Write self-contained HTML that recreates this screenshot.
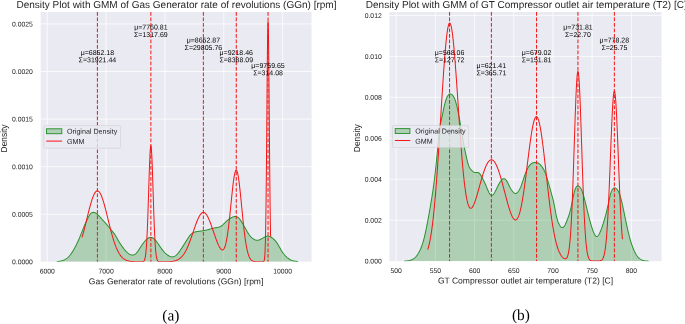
<!DOCTYPE html>
<html lang="en"><head><meta charset="utf-8"><title>Density Plot with GMM</title>
<style>html,body{margin:0;padding:0;background:#fff;overflow:hidden}svg{display:block}</style>
</head><body>
<svg width="685" height="324" viewBox="0 0 685 324" font-family='"Liberation Sans", sans-serif'>
<rect width="685" height="324" fill="#fff"/>
<clipPath id="clipL"><rect x="40.7" y="12" width="270.8" height="249.7"/></clipPath>
<rect x="40.7" y="12" width="270.8" height="249.7" fill="#eaeaf2"/>
<line x1="47.25" y1="12" x2="47.25" y2="261.7" stroke="#fff" stroke-width="0.75"/>
<line x1="106.10" y1="12" x2="106.10" y2="261.7" stroke="#fff" stroke-width="0.75"/>
<line x1="164.95" y1="12" x2="164.95" y2="261.7" stroke="#fff" stroke-width="0.75"/>
<line x1="223.80" y1="12" x2="223.80" y2="261.7" stroke="#fff" stroke-width="0.75"/>
<line x1="282.65" y1="12" x2="282.65" y2="261.7" stroke="#fff" stroke-width="0.75"/>
<line x1="40.7" y1="214.27" x2="311.5" y2="214.27" stroke="#fff" stroke-width="0.75"/>
<line x1="40.7" y1="166.68" x2="311.5" y2="166.68" stroke="#fff" stroke-width="0.75"/>
<line x1="40.7" y1="119.10" x2="311.5" y2="119.10" stroke="#fff" stroke-width="0.75"/>
<line x1="40.7" y1="71.51" x2="311.5" y2="71.51" stroke="#fff" stroke-width="0.75"/>
<line x1="40.7" y1="23.93" x2="311.5" y2="23.93" stroke="#fff" stroke-width="0.75"/>
<g clip-path="url(#clipL)">
<path d="M56.80,261.70 L57.20,261.64 L57.60,261.57 L58.00,261.50 L58.40,261.44 L58.80,261.37 L59.20,261.29 L59.60,261.22 L60.00,261.14 L60.40,261.06 L60.80,260.97 L61.20,260.88 L61.60,260.78 L62.00,260.67 L62.40,260.55 L62.80,260.42 L63.20,260.29 L63.60,260.14 L64.00,259.97 L64.40,259.79 L64.80,259.60 L65.20,259.39 L65.60,259.16 L66.00,258.92 L66.40,258.65 L66.80,258.37 L67.20,258.06 L67.60,257.73 L68.00,257.38 L68.40,257.00 L68.80,256.60 L69.20,256.17 L69.60,255.71 L70.00,255.24 L70.40,254.74 L70.80,254.21 L71.20,253.66 L71.60,253.09 L72.00,252.50 L72.40,251.89 L72.80,251.26 L73.20,250.60 L73.60,249.93 L74.00,249.24 L74.40,248.53 L74.80,247.80 L75.20,247.05 L75.60,246.28 L76.00,245.50 L76.40,244.70 L76.80,243.89 L77.20,243.05 L77.60,242.20 L78.00,241.33 L78.40,240.44 L78.80,239.53 L79.20,238.60 L79.60,237.64 L80.00,236.67 L80.40,235.67 L80.80,234.66 L81.20,233.65 L81.60,232.62 L82.00,231.60 L82.40,230.59 L82.80,229.58 L83.20,228.59 L83.60,227.62 L84.00,226.66 L84.40,225.73 L84.80,224.82 L85.20,223.92 L85.60,223.03 L86.00,222.16 L86.40,221.29 L86.80,220.44 L87.20,219.59 L87.60,218.75 L88.00,217.93 L88.40,217.14 L88.80,216.38 L89.20,215.68 L89.60,215.04 L90.00,214.46 L90.40,213.97 L90.80,213.55 L91.20,213.20 L91.60,212.91 L92.00,212.69 L92.40,212.53 L92.80,212.43 L93.20,212.38 L93.60,212.38 L94.00,212.43 L94.40,212.53 L94.80,212.67 L95.20,212.84 L95.60,213.05 L96.00,213.30 L96.40,213.57 L96.80,213.87 L97.20,214.20 L97.60,214.55 L98.00,214.92 L98.40,215.31 L98.80,215.71 L99.20,216.13 L99.60,216.56 L100.00,217.00 L100.40,217.45 L100.80,217.90 L101.20,218.35 L101.60,218.81 L102.00,219.26 L102.40,219.72 L102.80,220.18 L103.20,220.63 L103.60,221.08 L104.00,221.52 L104.40,221.96 L104.80,222.39 L105.20,222.82 L105.60,223.26 L106.00,223.69 L106.40,224.14 L106.80,224.59 L107.20,225.05 L107.60,225.52 L108.00,226.01 L108.40,226.50 L108.80,227.00 L109.20,227.51 L109.60,228.02 L110.00,228.53 L110.40,229.03 L110.80,229.52 L111.20,230.00 L111.60,230.47 L112.00,230.93 L112.40,231.39 L112.80,231.85 L113.20,232.32 L113.60,232.82 L114.00,233.33 L114.40,233.87 L114.80,234.45 L115.20,235.07 L115.60,235.72 L116.00,236.41 L116.40,237.12 L116.80,237.84 L117.20,238.58 L117.60,239.31 L118.00,240.04 L118.40,240.75 L118.80,241.44 L119.20,242.11 L119.60,242.76 L120.00,243.38 L120.40,243.99 L120.80,244.58 L121.20,245.16 L121.60,245.73 L122.00,246.29 L122.40,246.84 L122.80,247.38 L123.20,247.92 L123.60,248.45 L124.00,248.96 L124.40,249.46 L124.80,249.95 L125.20,250.42 L125.60,250.87 L126.00,251.30 L126.40,251.71 L126.80,252.09 L127.20,252.46 L127.60,252.80 L128.00,253.12 L128.40,253.42 L128.80,253.70 L129.20,253.96 L129.60,254.20 L130.00,254.42 L130.40,254.61 L130.80,254.77 L131.20,254.90 L131.60,255.00 L132.00,255.07 L132.40,255.09 L132.80,255.09 L133.20,255.04 L133.60,254.95 L134.00,254.82 L134.40,254.65 L134.80,254.43 L135.20,254.17 L135.60,253.86 L136.00,253.50 L136.40,253.09 L136.80,252.64 L137.20,252.14 L137.60,251.62 L138.00,251.06 L138.40,250.48 L138.80,249.88 L139.20,249.27 L139.60,248.65 L140.00,248.04 L140.40,247.42 L140.80,246.80 L141.20,246.19 L141.60,245.59 L142.00,244.99 L142.40,244.41 L142.80,243.83 L143.20,243.27 L143.60,242.73 L144.00,242.21 L144.40,241.70 L144.80,241.22 L145.20,240.75 L145.60,240.31 L146.00,239.90 L146.40,239.51 L146.80,239.15 L147.20,238.82 L147.60,238.52 L148.00,238.25 L148.40,238.02 L148.80,237.82 L149.20,237.66 L149.60,237.53 L150.00,237.45 L150.40,237.40 L150.80,237.40 L151.20,237.44 L151.60,237.52 L152.00,237.65 L152.40,237.81 L152.80,238.02 L153.20,238.26 L153.60,238.54 L154.00,238.86 L154.40,239.21 L154.80,239.59 L155.20,240.01 L155.60,240.46 L156.00,240.93 L156.40,241.43 L156.80,241.95 L157.20,242.49 L157.60,243.04 L158.00,243.61 L158.40,244.19 L158.80,244.78 L159.20,245.37 L159.60,245.97 L160.00,246.56 L160.40,247.15 L160.80,247.73 L161.20,248.30 L161.60,248.86 L162.00,249.40 L162.40,249.92 L162.80,250.42 L163.20,250.90 L163.60,251.37 L164.00,251.81 L164.40,252.24 L164.80,252.65 L165.20,253.04 L165.60,253.41 L166.00,253.77 L166.40,254.10 L166.80,254.43 L167.20,254.73 L167.60,255.02 L168.00,255.29 L168.40,255.54 L168.80,255.78 L169.20,256.00 L169.60,256.20 L170.00,256.38 L170.40,256.54 L170.80,256.67 L171.20,256.78 L171.60,256.86 L172.00,256.90 L172.40,256.90 L172.80,256.86 L173.20,256.79 L173.60,256.69 L174.00,256.54 L174.40,256.37 L174.80,256.15 L175.20,255.91 L175.60,255.63 L176.00,255.32 L176.40,254.98 L176.80,254.61 L177.20,254.21 L177.60,253.78 L178.00,253.33 L178.40,252.86 L178.80,252.36 L179.20,251.84 L179.60,251.30 L180.00,250.74 L180.40,250.17 L180.80,249.58 L181.20,248.98 L181.60,248.37 L182.00,247.75 L182.40,247.13 L182.80,246.49 L183.20,245.86 L183.60,245.22 L184.00,244.58 L184.40,243.95 L184.80,243.31 L185.20,242.67 L185.60,242.03 L186.00,241.39 L186.40,240.75 L186.80,240.12 L187.20,239.48 L187.60,238.85 L188.00,238.23 L188.40,237.62 L188.80,237.03 L189.20,236.46 L189.60,235.91 L190.00,235.40 L190.40,234.93 L190.80,234.50 L191.20,234.11 L191.60,233.76 L192.00,233.45 L192.40,233.17 L192.80,232.92 L193.20,232.71 L193.60,232.52 L194.00,232.35 L194.40,232.20 L194.80,232.07 L195.20,231.95 L195.60,231.85 L196.00,231.76 L196.40,231.68 L196.80,231.61 L197.20,231.54 L197.60,231.48 L198.00,231.43 L198.40,231.38 L198.80,231.33 L199.20,231.27 L199.60,231.22 L200.00,231.17 L200.40,231.11 L200.80,231.06 L201.20,231.00 L201.60,230.94 L202.00,230.88 L202.40,230.82 L202.80,230.75 L203.20,230.69 L203.60,230.62 L204.00,230.55 L204.40,230.47 L204.80,230.40 L205.20,230.32 L205.60,230.24 L206.00,230.15 L206.40,230.07 L206.80,229.98 L207.20,229.88 L207.60,229.78 L208.00,229.68 L208.40,229.57 L208.80,229.46 L209.20,229.35 L209.60,229.23 L210.00,229.11 L210.40,228.99 L210.80,228.88 L211.20,228.76 L211.60,228.65 L212.00,228.53 L212.40,228.43 L212.80,228.33 L213.20,228.23 L213.60,228.14 L214.00,228.06 L214.40,227.99 L214.80,227.92 L215.20,227.85 L215.60,227.79 L216.00,227.73 L216.40,227.66 L216.80,227.59 L217.20,227.52 L217.60,227.44 L218.00,227.35 L218.40,227.24 L218.80,227.13 L219.20,227.00 L219.60,226.85 L220.00,226.68 L220.40,226.49 L220.80,226.28 L221.20,226.05 L221.60,225.79 L222.00,225.50 L222.40,225.18 L222.80,224.84 L223.20,224.47 L223.60,224.09 L224.00,223.70 L224.40,223.30 L224.80,222.90 L225.20,222.49 L225.60,222.10 L226.00,221.71 L226.40,221.34 L226.80,220.97 L227.20,220.62 L227.60,220.28 L228.00,219.96 L228.40,219.64 L228.80,219.34 L229.20,219.04 L229.60,218.76 L230.00,218.49 L230.40,218.23 L230.80,217.99 L231.20,217.76 L231.60,217.55 L232.00,217.35 L232.40,217.17 L232.80,217.01 L233.20,216.87 L233.60,216.74 L234.00,216.64 L234.40,216.57 L234.80,216.52 L235.20,216.50 L235.60,216.51 L236.00,216.56 L236.40,216.65 L236.80,216.77 L237.20,216.94 L237.60,217.16 L238.00,217.42 L238.40,217.73 L238.80,218.10 L239.20,218.52 L239.60,218.98 L240.00,219.49 L240.40,220.04 L240.80,220.62 L241.20,221.23 L241.60,221.86 L242.00,222.51 L242.40,223.17 L242.80,223.85 L243.20,224.54 L243.60,225.24 L244.00,225.94 L244.40,226.66 L244.80,227.38 L245.20,228.10 L245.60,228.82 L246.00,229.54 L246.40,230.25 L246.80,230.95 L247.20,231.64 L247.60,232.32 L248.00,232.98 L248.40,233.62 L248.80,234.23 L249.20,234.80 L249.60,235.34 L250.00,235.85 L250.40,236.31 L250.80,236.73 L251.20,237.12 L251.60,237.49 L252.00,237.83 L252.40,238.15 L252.80,238.45 L253.20,238.74 L253.60,239.01 L254.00,239.26 L254.40,239.49 L254.80,239.70 L255.20,239.87 L255.60,240.02 L256.00,240.14 L256.40,240.22 L256.80,240.26 L257.20,240.27 L257.60,240.25 L258.00,240.21 L258.40,240.13 L258.80,240.03 L259.20,239.91 L259.60,239.76 L260.00,239.60 L260.40,239.42 L260.80,239.23 L261.20,239.02 L261.60,238.81 L262.00,238.59 L262.40,238.36 L262.80,238.13 L263.20,237.89 L263.60,237.66 L264.00,237.43 L264.40,237.20 L264.80,236.98 L265.20,236.78 L265.60,236.60 L266.00,236.44 L266.40,236.30 L266.80,236.19 L267.20,236.12 L267.60,236.09 L268.00,236.09 L268.40,236.13 L268.80,236.21 L269.20,236.32 L269.60,236.45 L270.00,236.61 L270.40,236.80 L270.80,237.01 L271.20,237.23 L271.60,237.48 L272.00,237.75 L272.40,238.04 L272.80,238.34 L273.20,238.67 L273.60,239.02 L274.00,239.39 L274.40,239.79 L274.80,240.20 L275.20,240.65 L275.60,241.11 L276.00,241.61 L276.40,242.13 L276.80,242.69 L277.20,243.28 L277.60,243.90 L278.00,244.56 L278.40,245.24 L278.80,245.95 L279.20,246.67 L279.60,247.40 L280.00,248.12 L280.40,248.84 L280.80,249.55 L281.20,250.23 L281.60,250.89 L282.00,251.51 L282.40,252.11 L282.80,252.68 L283.20,253.23 L283.60,253.75 L284.00,254.25 L284.40,254.72 L284.80,255.18 L285.20,255.62 L285.60,256.04 L286.00,256.44 L286.40,256.82 L286.80,257.19 L287.20,257.54 L287.60,257.87 L288.00,258.18 L288.40,258.48 L288.80,258.77 L289.20,259.04 L289.60,259.29 L290.00,259.53 L290.40,259.75 L290.80,259.95 L291.20,260.14 L291.60,260.31 L292.00,260.46 L292.40,260.60 L292.80,260.72 L293.20,260.82 L293.60,260.91 L294.00,260.99 L294.40,261.05 L294.80,261.12 L295.20,261.17 L295.60,261.23 L296.00,261.29 L296.40,261.34 L296.80,261.41 L297.20,261.47 L297.60,261.53 L298.00,261.60 L298.00,261.85 L56.80,261.85 Z" fill="#008000" fill-opacity="0.25" stroke="none"/>
<path d="M56.80,261.70 L57.20,261.64 L57.60,261.57 L58.00,261.50 L58.40,261.44 L58.80,261.37 L59.20,261.29 L59.60,261.22 L60.00,261.14 L60.40,261.06 L60.80,260.97 L61.20,260.88 L61.60,260.78 L62.00,260.67 L62.40,260.55 L62.80,260.42 L63.20,260.29 L63.60,260.14 L64.00,259.97 L64.40,259.79 L64.80,259.60 L65.20,259.39 L65.60,259.16 L66.00,258.92 L66.40,258.65 L66.80,258.37 L67.20,258.06 L67.60,257.73 L68.00,257.38 L68.40,257.00 L68.80,256.60 L69.20,256.17 L69.60,255.71 L70.00,255.24 L70.40,254.74 L70.80,254.21 L71.20,253.66 L71.60,253.09 L72.00,252.50 L72.40,251.89 L72.80,251.26 L73.20,250.60 L73.60,249.93 L74.00,249.24 L74.40,248.53 L74.80,247.80 L75.20,247.05 L75.60,246.28 L76.00,245.50 L76.40,244.70 L76.80,243.89 L77.20,243.05 L77.60,242.20 L78.00,241.33 L78.40,240.44 L78.80,239.53 L79.20,238.60 L79.60,237.64 L80.00,236.67 L80.40,235.67 L80.80,234.66 L81.20,233.65 L81.60,232.62 L82.00,231.60 L82.40,230.59 L82.80,229.58 L83.20,228.59 L83.60,227.62 L84.00,226.66 L84.40,225.73 L84.80,224.82 L85.20,223.92 L85.60,223.03 L86.00,222.16 L86.40,221.29 L86.80,220.44 L87.20,219.59 L87.60,218.75 L88.00,217.93 L88.40,217.14 L88.80,216.38 L89.20,215.68 L89.60,215.04 L90.00,214.46 L90.40,213.97 L90.80,213.55 L91.20,213.20 L91.60,212.91 L92.00,212.69 L92.40,212.53 L92.80,212.43 L93.20,212.38 L93.60,212.38 L94.00,212.43 L94.40,212.53 L94.80,212.67 L95.20,212.84 L95.60,213.05 L96.00,213.30 L96.40,213.57 L96.80,213.87 L97.20,214.20 L97.60,214.55 L98.00,214.92 L98.40,215.31 L98.80,215.71 L99.20,216.13 L99.60,216.56 L100.00,217.00 L100.40,217.45 L100.80,217.90 L101.20,218.35 L101.60,218.81 L102.00,219.26 L102.40,219.72 L102.80,220.18 L103.20,220.63 L103.60,221.08 L104.00,221.52 L104.40,221.96 L104.80,222.39 L105.20,222.82 L105.60,223.26 L106.00,223.69 L106.40,224.14 L106.80,224.59 L107.20,225.05 L107.60,225.52 L108.00,226.01 L108.40,226.50 L108.80,227.00 L109.20,227.51 L109.60,228.02 L110.00,228.53 L110.40,229.03 L110.80,229.52 L111.20,230.00 L111.60,230.47 L112.00,230.93 L112.40,231.39 L112.80,231.85 L113.20,232.32 L113.60,232.82 L114.00,233.33 L114.40,233.87 L114.80,234.45 L115.20,235.07 L115.60,235.72 L116.00,236.41 L116.40,237.12 L116.80,237.84 L117.20,238.58 L117.60,239.31 L118.00,240.04 L118.40,240.75 L118.80,241.44 L119.20,242.11 L119.60,242.76 L120.00,243.38 L120.40,243.99 L120.80,244.58 L121.20,245.16 L121.60,245.73 L122.00,246.29 L122.40,246.84 L122.80,247.38 L123.20,247.92 L123.60,248.45 L124.00,248.96 L124.40,249.46 L124.80,249.95 L125.20,250.42 L125.60,250.87 L126.00,251.30 L126.40,251.71 L126.80,252.09 L127.20,252.46 L127.60,252.80 L128.00,253.12 L128.40,253.42 L128.80,253.70 L129.20,253.96 L129.60,254.20 L130.00,254.42 L130.40,254.61 L130.80,254.77 L131.20,254.90 L131.60,255.00 L132.00,255.07 L132.40,255.09 L132.80,255.09 L133.20,255.04 L133.60,254.95 L134.00,254.82 L134.40,254.65 L134.80,254.43 L135.20,254.17 L135.60,253.86 L136.00,253.50 L136.40,253.09 L136.80,252.64 L137.20,252.14 L137.60,251.62 L138.00,251.06 L138.40,250.48 L138.80,249.88 L139.20,249.27 L139.60,248.65 L140.00,248.04 L140.40,247.42 L140.80,246.80 L141.20,246.19 L141.60,245.59 L142.00,244.99 L142.40,244.41 L142.80,243.83 L143.20,243.27 L143.60,242.73 L144.00,242.21 L144.40,241.70 L144.80,241.22 L145.20,240.75 L145.60,240.31 L146.00,239.90 L146.40,239.51 L146.80,239.15 L147.20,238.82 L147.60,238.52 L148.00,238.25 L148.40,238.02 L148.80,237.82 L149.20,237.66 L149.60,237.53 L150.00,237.45 L150.40,237.40 L150.80,237.40 L151.20,237.44 L151.60,237.52 L152.00,237.65 L152.40,237.81 L152.80,238.02 L153.20,238.26 L153.60,238.54 L154.00,238.86 L154.40,239.21 L154.80,239.59 L155.20,240.01 L155.60,240.46 L156.00,240.93 L156.40,241.43 L156.80,241.95 L157.20,242.49 L157.60,243.04 L158.00,243.61 L158.40,244.19 L158.80,244.78 L159.20,245.37 L159.60,245.97 L160.00,246.56 L160.40,247.15 L160.80,247.73 L161.20,248.30 L161.60,248.86 L162.00,249.40 L162.40,249.92 L162.80,250.42 L163.20,250.90 L163.60,251.37 L164.00,251.81 L164.40,252.24 L164.80,252.65 L165.20,253.04 L165.60,253.41 L166.00,253.77 L166.40,254.10 L166.80,254.43 L167.20,254.73 L167.60,255.02 L168.00,255.29 L168.40,255.54 L168.80,255.78 L169.20,256.00 L169.60,256.20 L170.00,256.38 L170.40,256.54 L170.80,256.67 L171.20,256.78 L171.60,256.86 L172.00,256.90 L172.40,256.90 L172.80,256.86 L173.20,256.79 L173.60,256.69 L174.00,256.54 L174.40,256.37 L174.80,256.15 L175.20,255.91 L175.60,255.63 L176.00,255.32 L176.40,254.98 L176.80,254.61 L177.20,254.21 L177.60,253.78 L178.00,253.33 L178.40,252.86 L178.80,252.36 L179.20,251.84 L179.60,251.30 L180.00,250.74 L180.40,250.17 L180.80,249.58 L181.20,248.98 L181.60,248.37 L182.00,247.75 L182.40,247.13 L182.80,246.49 L183.20,245.86 L183.60,245.22 L184.00,244.58 L184.40,243.95 L184.80,243.31 L185.20,242.67 L185.60,242.03 L186.00,241.39 L186.40,240.75 L186.80,240.12 L187.20,239.48 L187.60,238.85 L188.00,238.23 L188.40,237.62 L188.80,237.03 L189.20,236.46 L189.60,235.91 L190.00,235.40 L190.40,234.93 L190.80,234.50 L191.20,234.11 L191.60,233.76 L192.00,233.45 L192.40,233.17 L192.80,232.92 L193.20,232.71 L193.60,232.52 L194.00,232.35 L194.40,232.20 L194.80,232.07 L195.20,231.95 L195.60,231.85 L196.00,231.76 L196.40,231.68 L196.80,231.61 L197.20,231.54 L197.60,231.48 L198.00,231.43 L198.40,231.38 L198.80,231.33 L199.20,231.27 L199.60,231.22 L200.00,231.17 L200.40,231.11 L200.80,231.06 L201.20,231.00 L201.60,230.94 L202.00,230.88 L202.40,230.82 L202.80,230.75 L203.20,230.69 L203.60,230.62 L204.00,230.55 L204.40,230.47 L204.80,230.40 L205.20,230.32 L205.60,230.24 L206.00,230.15 L206.40,230.07 L206.80,229.98 L207.20,229.88 L207.60,229.78 L208.00,229.68 L208.40,229.57 L208.80,229.46 L209.20,229.35 L209.60,229.23 L210.00,229.11 L210.40,228.99 L210.80,228.88 L211.20,228.76 L211.60,228.65 L212.00,228.53 L212.40,228.43 L212.80,228.33 L213.20,228.23 L213.60,228.14 L214.00,228.06 L214.40,227.99 L214.80,227.92 L215.20,227.85 L215.60,227.79 L216.00,227.73 L216.40,227.66 L216.80,227.59 L217.20,227.52 L217.60,227.44 L218.00,227.35 L218.40,227.24 L218.80,227.13 L219.20,227.00 L219.60,226.85 L220.00,226.68 L220.40,226.49 L220.80,226.28 L221.20,226.05 L221.60,225.79 L222.00,225.50 L222.40,225.18 L222.80,224.84 L223.20,224.47 L223.60,224.09 L224.00,223.70 L224.40,223.30 L224.80,222.90 L225.20,222.49 L225.60,222.10 L226.00,221.71 L226.40,221.34 L226.80,220.97 L227.20,220.62 L227.60,220.28 L228.00,219.96 L228.40,219.64 L228.80,219.34 L229.20,219.04 L229.60,218.76 L230.00,218.49 L230.40,218.23 L230.80,217.99 L231.20,217.76 L231.60,217.55 L232.00,217.35 L232.40,217.17 L232.80,217.01 L233.20,216.87 L233.60,216.74 L234.00,216.64 L234.40,216.57 L234.80,216.52 L235.20,216.50 L235.60,216.51 L236.00,216.56 L236.40,216.65 L236.80,216.77 L237.20,216.94 L237.60,217.16 L238.00,217.42 L238.40,217.73 L238.80,218.10 L239.20,218.52 L239.60,218.98 L240.00,219.49 L240.40,220.04 L240.80,220.62 L241.20,221.23 L241.60,221.86 L242.00,222.51 L242.40,223.17 L242.80,223.85 L243.20,224.54 L243.60,225.24 L244.00,225.94 L244.40,226.66 L244.80,227.38 L245.20,228.10 L245.60,228.82 L246.00,229.54 L246.40,230.25 L246.80,230.95 L247.20,231.64 L247.60,232.32 L248.00,232.98 L248.40,233.62 L248.80,234.23 L249.20,234.80 L249.60,235.34 L250.00,235.85 L250.40,236.31 L250.80,236.73 L251.20,237.12 L251.60,237.49 L252.00,237.83 L252.40,238.15 L252.80,238.45 L253.20,238.74 L253.60,239.01 L254.00,239.26 L254.40,239.49 L254.80,239.70 L255.20,239.87 L255.60,240.02 L256.00,240.14 L256.40,240.22 L256.80,240.26 L257.20,240.27 L257.60,240.25 L258.00,240.21 L258.40,240.13 L258.80,240.03 L259.20,239.91 L259.60,239.76 L260.00,239.60 L260.40,239.42 L260.80,239.23 L261.20,239.02 L261.60,238.81 L262.00,238.59 L262.40,238.36 L262.80,238.13 L263.20,237.89 L263.60,237.66 L264.00,237.43 L264.40,237.20 L264.80,236.98 L265.20,236.78 L265.60,236.60 L266.00,236.44 L266.40,236.30 L266.80,236.19 L267.20,236.12 L267.60,236.09 L268.00,236.09 L268.40,236.13 L268.80,236.21 L269.20,236.32 L269.60,236.45 L270.00,236.61 L270.40,236.80 L270.80,237.01 L271.20,237.23 L271.60,237.48 L272.00,237.75 L272.40,238.04 L272.80,238.34 L273.20,238.67 L273.60,239.02 L274.00,239.39 L274.40,239.79 L274.80,240.20 L275.20,240.65 L275.60,241.11 L276.00,241.61 L276.40,242.13 L276.80,242.69 L277.20,243.28 L277.60,243.90 L278.00,244.56 L278.40,245.24 L278.80,245.95 L279.20,246.67 L279.60,247.40 L280.00,248.12 L280.40,248.84 L280.80,249.55 L281.20,250.23 L281.60,250.89 L282.00,251.51 L282.40,252.11 L282.80,252.68 L283.20,253.23 L283.60,253.75 L284.00,254.25 L284.40,254.72 L284.80,255.18 L285.20,255.62 L285.60,256.04 L286.00,256.44 L286.40,256.82 L286.80,257.19 L287.20,257.54 L287.60,257.87 L288.00,258.18 L288.40,258.48 L288.80,258.77 L289.20,259.04 L289.60,259.29 L290.00,259.53 L290.40,259.75 L290.80,259.95 L291.20,260.14 L291.60,260.31 L292.00,260.46 L292.40,260.60 L292.80,260.72 L293.20,260.82 L293.60,260.91 L294.00,260.99 L294.40,261.05 L294.80,261.12 L295.20,261.17 L295.60,261.23 L296.00,261.29 L296.40,261.34 L296.80,261.41 L297.20,261.47 L297.60,261.53 L298.00,261.60" fill="none" stroke="#2a912d" stroke-width="1.02" stroke-linejoin="round"/>
<path d="M82.03,237.47 L82.41,236.17 L82.79,234.84 L82.86,234.56 L83.16,233.47 L83.54,232.07 L83.69,231.50 L83.92,230.65 L84.30,229.20 L84.53,228.31 L84.68,227.73 L85.05,226.23 L85.36,225.01 L85.43,224.72 L85.81,223.20 L86.19,221.66 L86.19,221.64 L86.57,220.12 L86.94,218.57 L87.02,218.24 L87.32,217.02 L87.70,215.48 L87.86,214.84 L88.08,213.95 L88.45,212.43 L88.69,211.50 L88.83,210.93 L89.21,209.45 L89.52,208.25 L89.59,208.00 L89.97,206.57 L90.34,205.19 L90.35,205.15 L90.72,203.84 L91.10,202.54 L91.19,202.25 L91.48,201.29 L91.86,200.09 L92.02,199.59 L92.23,198.95 L92.61,197.87 L92.85,197.22 L92.99,196.85 L93.37,195.91 L93.68,195.18 L93.75,195.04 L94.12,194.24 L94.50,193.52 L94.51,193.50 L94.88,192.89 L95.26,192.34 L95.35,192.22 L95.63,191.87 L96.01,191.49 L96.18,191.35 L96.39,191.20 L96.77,191.00 L97.01,190.92 L97.15,190.90 L97.52,190.88 L97.84,190.94 L97.90,190.96 L98.28,191.12 L98.66,191.38 L98.68,191.40 L99.04,191.73 L99.41,192.16 L99.51,192.29 L99.79,192.69 L100.17,193.29 L100.34,193.60 L100.55,193.98 L100.93,194.75 L101.17,195.30 L101.30,195.60 L101.68,196.52 L102.01,197.36 L102.06,197.51 L102.44,198.57 L102.81,199.69 L102.84,199.76 L103.19,200.87 L103.57,202.10 L103.67,202.43 L103.95,203.39 L104.33,204.72 L104.50,205.35 L104.70,206.09 L105.08,207.50 L105.33,208.46 L105.46,208.94 L105.84,210.41 L106.17,211.71 L106.22,211.91 L106.59,213.42 L106.97,214.95 L107.00,215.06 L107.35,216.49 L107.73,218.03 L107.83,218.46 L108.11,219.58 L108.48,221.13 L108.66,221.86 L108.86,222.66 L109.24,224.19 L109.50,225.23 L109.62,225.71 L110.00,227.21 L110.33,228.52 L110.37,228.69 L110.75,230.15 L111.13,231.58 L111.16,231.70 L111.51,232.99 L111.88,234.37 L111.99,234.76 L112.26,235.71 L112.64,237.02 L112.83,237.65 L113.02,238.30 L113.40,239.54 L113.66,240.37 L113.77,240.74 L114.15,241.90 L114.49,242.90 L114.53,243.02 L114.91,244.10 L115.29,245.15 L115.32,245.24 L115.66,246.15 L116.04,247.11 L116.15,247.39 L116.42,248.03 L116.80,248.90 L116.99,249.33 L117.18,249.74 L117.55,250.54 L117.82,251.08 L117.93,251.30 L118.31,252.02 L118.65,252.64 L118.69,252.71 L119.06,253.35 L119.44,253.96 L119.48,254.03 L119.82,254.54 L120.20,255.09 L120.32,255.25 L120.58,255.60 L120.95,256.08 L121.15,256.31 L121.33,256.53 L121.71,256.95 L121.98,257.23 L122.09,257.34 L122.47,257.71 L122.81,258.02 L122.84,258.05 L123.22,258.37 L123.60,258.67 L123.65,258.70 L123.98,258.94 L124.36,259.20 L124.48,259.27 L124.73,259.43 L125.11,259.65 L125.31,259.75 L125.49,259.85 L125.87,260.03 L126.14,260.16 L126.24,260.20 L126.62,260.36 L126.97,260.49 L127.00,260.50 L127.38,260.63 L127.76,260.75 L127.81,260.77 L128.13,260.86 L128.51,260.96 L128.64,260.99 L128.89,261.05 L129.27,261.13 L129.47,261.17 L129.65,261.21 L130.02,261.27 L130.30,261.32 L130.40,261.33 L130.78,261.39 L131.14,261.44 L131.16,261.44 L131.54,261.48 L131.91,261.53 L131.97,261.53 L132.29,261.56 L132.67,261.59 L132.80,261.60 L133.05,261.62 L133.43,261.65 L133.63,261.66 L133.80,261.67 L134.18,261.69 L134.46,261.71 L134.56,261.71 L134.94,261.73 L135.30,261.74 L135.31,261.74 L135.69,261.76 L136.07,261.77 L136.13,261.77 L136.45,261.78 L136.83,261.79 L136.96,261.79 L137.20,261.80 L137.58,261.80 L137.79,261.81 L137.96,261.81 L138.34,261.81 L138.63,261.82 L138.72,261.82 L139.09,261.82 L139.46,261.83 L139.47,261.83 L139.85,261.83 L140.23,261.83 L140.61,261.83 L140.98,261.83 L141.36,261.83 L141.74,261.82 L142.12,261.79 L142.33,261.77 L142.49,261.75 L142.58,261.73 L142.82,261.68 L142.87,261.67 L143.07,261.60 L143.25,261.52 L143.32,261.49 L143.57,261.33 L143.63,261.28 L143.81,261.10 L144.01,260.87 L144.06,260.79 L144.31,260.37 L144.38,260.22 L144.56,259.81 L144.76,259.21 L144.81,259.06 L145.05,258.09 L145.14,257.69 L145.30,256.85 L145.52,255.50 L145.55,255.28 L145.80,253.32 L145.90,252.41 L146.04,250.92 L146.27,248.24 L146.29,248.01 L146.54,244.54 L146.65,242.77 L146.79,240.47 L147.03,235.87 L147.03,235.76 L147.28,230.42 L147.41,227.47 L147.53,224.44 L147.78,217.88 L147.79,217.67 L148.03,210.81 L148.16,206.69 L148.27,203.33 L148.52,195.59 L148.54,194.94 L148.77,187.75 L148.92,183.01 L149.02,180.00 L149.26,172.56 L149.30,171.60 L149.51,165.65 L149.67,161.48 L149.76,159.48 L150.01,154.26 L150.05,153.42 L150.25,150.18 L150.43,148.04 L150.50,147.37 L150.75,145.93 L150.81,145.80 L151.00,145.93 L151.19,146.90 L151.25,147.37 L151.49,150.18 L151.56,151.23 L151.74,154.26 L151.94,158.43 L151.99,159.48 L152.24,165.65 L152.32,167.93 L152.48,172.56 L152.70,178.98 L152.73,180.00 L152.98,187.75 L153.08,190.82 L153.23,195.59 L153.45,202.70 L153.47,203.33 L153.72,210.81 L153.83,214.00 L153.97,217.88 L154.21,224.24 L154.22,224.44 L154.47,230.42 L154.59,233.14 L154.71,235.76 L154.96,240.47 L154.97,240.55 L155.21,244.54 L155.34,246.51 L155.46,248.01 L155.70,250.92 L155.72,251.11 L155.95,253.32 L156.10,254.54 L156.20,255.28 L156.45,256.85 L156.48,257.02 L156.69,258.10 L156.85,258.75 L156.94,259.06 L157.19,259.81 L157.23,259.92 L157.44,260.37 L157.61,260.68 L157.68,260.79 L157.93,261.10 L157.99,261.16 L158.18,261.33 L158.37,261.45 L158.43,261.49 L158.68,261.60 L158.74,261.63 L158.92,261.68 L159.12,261.73 L159.17,261.74 L159.42,261.77 L159.50,261.78 L159.88,261.81 L160.26,261.83 L160.63,261.84 L161.01,261.84 L161.39,261.84 L161.77,261.84 L162.15,261.84 L162.52,261.83 L162.73,261.83 L162.90,261.83 L163.28,261.83 L163.66,261.83 L163.91,261.82 L164.04,261.82 L164.41,261.82 L164.79,261.81 L165.09,261.81 L165.17,261.81 L165.55,261.80 L165.92,261.79 L166.27,261.79 L166.30,261.79 L166.68,261.78 L167.06,261.77 L167.44,261.76 L167.44,261.75 L167.81,261.74 L168.19,261.73 L168.57,261.71 L168.62,261.71 L168.95,261.69 L169.33,261.67 L169.70,261.65 L169.80,261.64 L170.08,261.62 L170.46,261.59 L170.84,261.56 L170.98,261.54 L171.22,261.52 L171.59,261.48 L171.97,261.43 L172.15,261.41 L172.35,261.38 L172.73,261.33 L173.10,261.27 L173.33,261.23 L173.48,261.20 L173.86,261.12 L174.24,261.04 L174.51,260.98 L174.62,260.95 L174.99,260.85 L175.37,260.74 L175.69,260.64 L175.75,260.62 L176.13,260.49 L176.51,260.35 L176.87,260.21 L176.88,260.20 L177.26,260.03 L177.64,259.85 L178.02,259.65 L178.04,259.64 L178.40,259.44 L178.77,259.21 L179.15,258.97 L179.22,258.92 L179.53,258.70 L179.91,258.42 L180.28,258.11 L180.40,258.01 L180.66,257.78 L181.04,257.44 L181.42,257.06 L181.58,256.90 L181.80,256.67 L182.17,256.24 L182.55,255.80 L182.76,255.54 L182.93,255.32 L183.31,254.82 L183.69,254.29 L183.93,253.92 L184.06,253.73 L184.44,253.14 L184.82,252.52 L185.11,252.02 L185.20,251.87 L185.58,251.19 L185.95,250.48 L186.29,249.82 L186.33,249.74 L186.71,248.97 L187.09,248.17 L187.46,247.34 L187.47,247.33 L187.84,246.48 L188.22,245.59 L188.60,244.68 L188.65,244.56 L188.98,243.74 L189.35,242.77 L189.73,241.78 L189.82,241.54 L190.11,240.77 L190.49,239.73 L190.87,238.68 L191.00,238.30 L191.24,237.61 L191.62,236.53 L192.00,235.44 L192.18,234.91 L192.38,234.33 L192.76,233.22 L193.13,232.11 L193.36,231.44 L193.51,230.99 L193.89,229.88 L194.27,228.78 L194.54,227.99 L194.65,227.68 L195.02,226.59 L195.40,225.52 L195.71,224.65 L195.78,224.47 L196.16,223.45 L196.53,222.45 L196.89,221.53 L196.91,221.48 L197.29,220.54 L197.67,219.64 L198.05,218.78 L198.07,218.72 L198.42,217.96 L198.80,217.19 L199.18,216.47 L199.25,216.34 L199.56,215.80 L199.94,215.18 L200.31,214.62 L200.43,214.47 L200.69,214.12 L201.07,213.69 L201.45,213.31 L201.60,213.18 L201.83,213.00 L202.20,212.76 L202.58,212.58 L202.78,212.52 L202.96,212.48 L203.34,212.44 L203.71,212.46 L203.96,212.52 L204.09,212.56 L204.47,212.72 L204.85,212.95 L205.14,213.18 L205.23,213.25 L205.60,213.61 L205.98,214.04 L206.32,214.47 L206.36,214.53 L206.74,215.08 L207.12,215.68 L207.49,216.34 L207.49,216.34 L207.87,217.05 L208.25,217.82 L208.63,218.62 L208.67,218.72 L209.01,219.48 L209.38,220.37 L209.76,221.30 L209.85,221.53 L210.14,222.27 L210.52,223.26 L210.89,224.28 L211.03,224.65 L211.27,225.33 L211.65,226.39 L212.03,227.47 L212.21,227.99 L212.41,228.57 L212.78,229.67 L213.16,230.78 L213.38,231.43 L213.54,231.89 L213.92,233.00 L214.30,234.11 L214.56,234.88 L214.67,235.20 L215.05,236.29 L215.10,236.42 L215.43,237.36 L215.72,238.18 L215.74,238.23 L215.81,238.42 L216.19,239.45 L216.35,239.89 L216.56,240.46 L216.92,241.39 L216.94,241.45 L216.97,241.53 L217.32,242.40 L217.60,243.08 L217.70,243.32 L218.08,244.20 L218.10,244.25 L218.22,244.53 L218.45,245.04 L218.83,245.83 L218.85,245.86 L219.21,246.57 L219.27,246.69 L219.47,247.05 L219.59,247.26 L219.96,247.88 L220.10,248.08 L220.34,248.43 L220.45,248.58 L220.72,248.91 L220.72,248.92 L221.10,249.31 L221.35,249.53 L221.48,249.62 L221.63,249.72 L221.85,249.83 L221.97,249.87 L222.23,249.93 L222.60,249.92 L222.61,249.92 L222.81,249.86 L222.99,249.77 L223.22,249.61 L223.37,249.49 L223.74,249.06 L223.85,248.91 L223.99,248.69 L224.12,248.46 L224.47,247.76 L224.50,247.70 L224.88,246.75 L225.10,246.11 L225.16,245.90 L225.26,245.61 L225.63,244.26 L225.72,243.92 L226.01,242.71 L226.34,241.18 L226.35,241.16 L226.39,240.95 L226.77,238.96 L226.97,237.80 L227.14,236.75 L227.52,234.34 L227.52,234.33 L227.60,233.84 L227.90,231.68 L228.22,229.29 L228.28,228.84 L228.66,225.79 L228.70,225.44 L228.84,224.20 L229.03,222.57 L229.41,219.18 L229.47,218.65 L229.79,215.66 L229.88,214.84 L230.09,212.74 L230.17,212.03 L230.55,208.32 L230.72,206.60 L230.92,204.57 L231.05,203.27 L231.30,200.81 L231.34,200.39 L231.68,197.09 L231.97,194.29 L232.06,193.45 L232.23,191.80 L232.44,189.93 L232.59,188.49 L232.81,186.57 L233.19,183.42 L233.22,183.20 L233.41,181.72 L233.57,180.53 L233.84,178.60 L233.95,177.93 L234.32,175.65 L234.47,174.88 L234.59,174.28 L234.70,173.74 L235.08,172.21 L235.09,172.17 L235.46,171.10 L235.72,170.59 L235.77,170.51 L235.84,170.42 L236.21,170.18 L236.34,170.20 L236.59,170.39 L236.94,170.97 L236.97,171.03 L236.97,171.03 L237.35,172.12 L237.59,173.05 L237.73,173.62 L238.10,175.52 L238.12,175.62 L238.22,176.17 L238.48,177.79 L238.84,180.28 L238.86,180.40 L239.24,183.31 L239.30,183.82 L239.47,185.23 L239.62,186.49 L239.99,189.90 L240.09,190.83 L240.37,193.49 L240.48,194.53 L240.72,196.91 L240.75,197.21 L241.13,201.04 L241.34,203.25 L241.50,204.91 L241.66,206.47 L241.88,208.81 L241.97,209.68 L242.26,212.67 L242.59,216.03 L242.64,216.48 L242.83,218.41 L243.02,220.20 L243.22,222.14 L243.39,223.80 L243.77,227.26 L243.84,227.89 L244.01,229.37 L244.15,230.56 L244.47,233.20 L244.53,233.68 L244.91,236.62 L245.09,238.00 L245.28,239.36 L245.66,241.90 L245.72,242.26 L246.04,244.24 L246.34,245.97 L246.42,246.39 L246.80,248.33 L246.97,249.16 L247.17,250.09 L247.55,251.68 L247.59,251.84 L247.93,253.09 L248.22,254.06 L248.31,254.34 L248.69,255.45 L248.84,255.86 L249.06,256.42 L249.44,257.26 L249.47,257.31 L249.82,257.99 L250.09,258.46 L250.20,258.63 L250.57,259.17 L250.72,259.35 L250.95,259.63 L251.33,260.02 L251.34,260.03 L251.71,260.35 L251.97,260.54 L252.09,260.63 L252.46,260.86 L252.59,260.92 L252.84,261.05 L253.22,261.20 L253.22,261.20 L253.60,261.33 L253.84,261.40 L253.98,261.44 L254.35,261.52 L254.47,261.55 L254.73,261.59 L255.09,261.65 L255.11,261.65 L255.49,261.69 L255.72,261.71 L255.87,261.73 L256.24,261.76 L256.34,261.76 L256.62,261.78 L256.97,261.79 L257.00,261.79 L257.38,261.81 L257.59,261.81 L257.75,261.82 L258.13,261.83 L258.22,261.83 L258.51,261.83 L258.89,261.84 L259.27,261.84 L259.64,261.84 L260.02,261.84 L260.40,261.85 L260.78,261.85 L261.16,261.85 L261.53,261.85 L261.91,261.85 L262.29,261.85 L262.67,261.84 L263.05,261.81 L263.42,261.71 L263.80,261.41 L264.18,260.56 L264.33,259.91 L264.42,259.41 L264.52,258.79 L264.56,258.46 L264.61,258.03 L264.70,257.11 L264.79,256.01 L264.88,254.69 L264.93,253.75 L264.97,253.12 L265.06,251.27 L265.15,249.10 L265.24,246.58 L265.31,244.34 L265.33,243.65 L265.42,240.30 L265.51,236.47 L265.61,232.13 L265.69,227.59 L265.70,227.25 L265.79,221.80 L265.88,215.76 L265.97,209.11 L266.06,201.84 L266.07,201.12 L266.15,193.96 L266.24,185.49 L266.33,176.45 L266.42,166.89 L266.45,164.40 L266.51,156.86 L266.61,146.44 L266.70,135.71 L266.79,124.77 L266.82,120.24 L266.88,113.74 L266.97,102.73 L267.06,91.88 L267.15,81.34 L267.20,75.51 L267.24,71.23 L267.33,61.72 L267.42,52.92 L267.51,45.00 L267.58,39.83 L267.60,38.06 L267.70,32.21 L267.79,27.57 L267.88,24.20 L267.96,22.32 L267.97,22.16 L268.06,21.48 L268.15,22.19 L268.24,24.26 L268.33,27.66 L268.34,27.85 L268.42,32.33 L268.51,38.19 L268.60,45.16 L268.70,53.11 L268.71,54.85 L268.79,61.91 L268.88,71.45 L268.97,81.56 L269.06,92.12 L269.09,96.05 L269.15,102.97 L269.24,113.98 L269.33,125.01 L269.42,135.95 L269.47,141.59 L269.51,146.67 L269.60,157.08 L269.69,167.10 L269.79,176.65 L269.85,182.87 L269.88,185.68 L269.97,194.14 L270.06,202.00 L270.15,209.26 L270.23,214.88 L270.24,215.90 L270.33,221.93 L270.42,227.36 L270.51,232.23 L270.60,236.56" fill="none" stroke="#f51616" stroke-width="1.02" stroke-linejoin="round"/>
<line x1="97.40" y1="12" x2="97.40" y2="261.7" stroke="#f51616" stroke-width="1.02" stroke-dasharray="3.85,1.65"/>
<line x1="150.87" y1="12" x2="150.87" y2="261.7" stroke="#f51616" stroke-width="1.02" stroke-dasharray="3.85,1.65"/>
<line x1="203.37" y1="12" x2="203.37" y2="261.7" stroke="#f51616" stroke-width="1.02" stroke-dasharray="3.85,1.65"/>
<line x1="236.26" y1="12" x2="236.26" y2="261.7" stroke="#f51616" stroke-width="1.02" stroke-dasharray="3.85,1.65"/>
<line x1="268.06" y1="12" x2="268.06" y2="261.7" stroke="#f51616" stroke-width="1.02" stroke-dasharray="3.85,1.65"/>
</g>
<rect x="43.7" y="125.6" width="76.9" height="22.6" rx="1.6" fill="#eaeaf2" fill-opacity="0.8" stroke="#cccccc" stroke-opacity="0.8" stroke-width="0.7"/>
<rect x="46.5" y="128.79999999999998" width="15.30" height="4.9" fill="#008000" fill-opacity="0.25" stroke="#2a912d" stroke-width="0.95"/>
<line x1="46.2" y1="141.1" x2="62.10" y2="141.1" stroke="#f51616" stroke-width="1.02"/>
<clipPath id="clipR"><rect x="389.5" y="12" width="272.0" height="249.2"/></clipPath>
<rect x="389.5" y="12" width="272.0" height="249.2" fill="#eaeaf2"/>
<line x1="396.20" y1="12" x2="396.20" y2="261.2" stroke="#fff" stroke-width="0.75"/>
<line x1="435.40" y1="12" x2="435.40" y2="261.2" stroke="#fff" stroke-width="0.75"/>
<line x1="474.60" y1="12" x2="474.60" y2="261.2" stroke="#fff" stroke-width="0.75"/>
<line x1="513.80" y1="12" x2="513.80" y2="261.2" stroke="#fff" stroke-width="0.75"/>
<line x1="553.00" y1="12" x2="553.00" y2="261.2" stroke="#fff" stroke-width="0.75"/>
<line x1="592.20" y1="12" x2="592.20" y2="261.2" stroke="#fff" stroke-width="0.75"/>
<line x1="631.40" y1="12" x2="631.40" y2="261.2" stroke="#fff" stroke-width="0.75"/>
<line x1="389.5" y1="220.16" x2="661.5" y2="220.16" stroke="#fff" stroke-width="0.75"/>
<line x1="389.5" y1="179.22" x2="661.5" y2="179.22" stroke="#fff" stroke-width="0.75"/>
<line x1="389.5" y1="138.28" x2="661.5" y2="138.28" stroke="#fff" stroke-width="0.75"/>
<line x1="389.5" y1="97.34" x2="661.5" y2="97.34" stroke="#fff" stroke-width="0.75"/>
<line x1="389.5" y1="56.40" x2="661.5" y2="56.40" stroke="#fff" stroke-width="0.75"/>
<line x1="389.5" y1="15.46" x2="661.5" y2="15.46" stroke="#fff" stroke-width="0.75"/>
<g clip-path="url(#clipR)">
<path d="M404.00,261.20 L404.40,261.17 L404.80,261.15 L405.20,261.12 L405.60,261.09 L406.00,261.06 L406.40,261.02 L406.80,260.98 L407.20,260.93 L407.60,260.87 L408.00,260.81 L408.40,260.74 L408.80,260.66 L409.20,260.57 L409.60,260.47 L410.00,260.36 L410.40,260.24 L410.80,260.11 L411.20,259.96 L411.60,259.80 L412.00,259.63 L412.40,259.44 L412.80,259.22 L413.20,258.99 L413.60,258.73 L414.00,258.45 L414.40,258.14 L414.80,257.80 L415.20,257.43 L415.60,257.03 L416.00,256.59 L416.40,256.12 L416.80,255.62 L417.20,255.09 L417.60,254.52 L418.00,253.91 L418.40,253.27 L418.80,252.59 L419.20,251.87 L419.60,251.10 L420.00,250.29 L420.40,249.43 L420.80,248.51 L421.20,247.53 L421.60,246.49 L422.00,245.38 L422.40,244.20 L422.80,242.94 L423.20,241.61 L423.60,240.20 L424.00,238.70 L424.40,237.13 L424.80,235.46 L425.20,233.71 L425.60,231.88 L426.00,229.97 L426.40,228.00 L426.80,225.97 L427.20,223.89 L427.60,221.77 L428.00,219.62 L428.40,217.45 L428.80,215.25 L429.20,213.03 L429.60,210.77 L430.00,208.49 L430.40,206.17 L430.80,203.82 L431.20,201.43 L431.60,198.99 L432.00,196.49 L432.40,193.91 L432.80,191.24 L433.20,188.48 L433.60,185.61 L434.00,182.62 L434.40,179.49 L434.80,176.22 L435.20,172.80 L435.60,169.21 L436.00,165.47 L436.40,161.60 L436.80,157.60 L437.20,153.49 L437.60,149.28 L438.00,145.00 L438.40,140.68 L438.80,136.46 L439.20,132.50 L439.60,128.97 L440.00,126.03 L440.40,123.73 L440.80,121.88 L441.20,120.28 L441.60,118.71 L442.00,116.99 L442.40,115.09 L442.80,113.10 L443.20,111.08 L443.60,109.10 L444.00,107.23 L444.40,105.48 L444.80,103.86 L445.20,102.36 L445.60,100.98 L446.00,99.74 L446.40,98.64 L446.80,97.66 L447.20,96.81 L447.60,96.09 L448.00,95.47 L448.40,94.96 L448.80,94.55 L449.20,94.24 L449.60,94.03 L450.00,93.91 L450.40,93.90 L450.80,93.98 L451.20,94.15 L451.60,94.41 L452.00,94.74 L452.40,95.14 L452.80,95.60 L453.20,96.12 L453.60,96.71 L454.00,97.40 L454.40,98.21 L454.80,99.15 L455.20,100.24 L455.60,101.48 L456.00,102.86 L456.40,104.36 L456.80,105.99 L457.20,107.73 L457.60,109.57 L458.00,111.51 L458.40,113.54 L458.80,115.62 L459.20,117.76 L459.60,119.93 L460.00,122.14 L460.40,124.39 L460.80,126.70 L461.20,129.07 L461.60,131.48 L462.00,133.91 L462.40,136.34 L462.80,138.73 L463.20,141.08 L463.60,143.36 L464.00,145.53 L464.40,147.61 L464.80,149.59 L465.20,151.50 L465.60,153.38 L466.00,155.22 L466.40,157.04 L466.80,158.80 L467.20,160.49 L467.60,162.07 L468.00,163.52 L468.40,164.82 L468.80,165.93 L469.20,166.87 L469.60,167.65 L470.00,168.31 L470.40,168.87 L470.80,169.35 L471.20,169.79 L471.60,170.21 L472.00,170.62 L472.40,171.00 L472.80,171.36 L473.20,171.68 L473.60,171.95 L474.00,172.16 L474.40,172.30 L474.80,172.39 L475.20,172.42 L475.60,172.43 L476.00,172.42 L476.40,172.40 L476.80,172.40 L477.20,172.42 L477.60,172.47 L478.00,172.57 L478.40,172.72 L478.80,172.94 L479.20,173.23 L479.60,173.59 L480.00,174.05 L480.40,174.59 L480.80,175.20 L481.20,175.87 L481.60,176.58 L482.00,177.33 L482.40,178.10 L482.80,178.89 L483.20,179.68 L483.60,180.48 L484.00,181.30 L484.40,182.14 L484.80,182.99 L485.20,183.87 L485.60,184.77 L486.00,185.70 L486.40,186.66 L486.80,187.63 L487.20,188.60 L487.60,189.56 L488.00,190.49 L488.40,191.37 L488.80,192.20 L489.20,192.95 L489.60,193.63 L490.00,194.21 L490.40,194.68 L490.80,195.05 L491.20,195.29 L491.60,195.40 L492.00,195.37 L492.40,195.22 L492.80,194.94 L493.20,194.56 L493.60,194.09 L494.00,193.53 L494.40,192.90 L494.80,192.22 L495.20,191.49 L495.60,190.72 L496.00,189.93 L496.40,189.12 L496.80,188.30 L497.20,187.48 L497.60,186.65 L498.00,185.84 L498.40,185.04 L498.80,184.27 L499.20,183.53 L499.60,182.83 L500.00,182.17 L500.40,181.56 L500.80,180.99 L501.20,180.47 L501.60,180.01 L502.00,179.61 L502.40,179.27 L502.80,179.00 L503.20,178.81 L503.60,178.70 L504.00,178.68 L504.40,178.75 L504.80,178.92 L505.20,179.18 L505.60,179.53 L506.00,179.97 L506.40,180.49 L506.80,181.10 L507.20,181.78 L507.60,182.53 L508.00,183.32 L508.40,184.14 L508.80,184.98 L509.20,185.81 L509.60,186.63 L510.00,187.41 L510.40,188.15 L510.80,188.83 L511.20,189.46 L511.60,190.05 L512.00,190.60 L512.40,191.11 L512.80,191.59 L513.20,192.03 L513.60,192.43 L514.00,192.79 L514.40,193.08 L514.80,193.31 L515.20,193.45 L515.60,193.50 L516.00,193.45 L516.40,193.30 L516.80,193.06 L517.20,192.73 L517.60,192.33 L518.00,191.85 L518.40,191.30 L518.80,190.69 L519.20,190.03 L519.60,189.30 L520.00,188.50 L520.40,187.64 L520.80,186.71 L521.20,185.70 L521.60,184.62 L522.00,183.48 L522.40,182.30 L522.80,181.08 L523.20,179.85 L523.60,178.62 L524.00,177.40 L524.40,176.21 L524.80,175.06 L525.20,173.94 L525.60,172.87 L526.00,171.86 L526.40,170.90 L526.80,170.00 L527.20,169.17 L527.60,168.40 L528.00,167.70 L528.40,167.05 L528.80,166.45 L529.20,165.90 L529.60,165.40 L530.00,164.94 L530.40,164.52 L530.80,164.14 L531.20,163.80 L531.60,163.51 L532.00,163.26 L532.40,163.05 L532.80,162.89 L533.20,162.76 L533.60,162.67 L534.00,162.61 L534.40,162.58 L534.80,162.57 L535.20,162.57 L535.60,162.59 L536.00,162.62 L536.40,162.67 L536.80,162.73 L537.20,162.82 L537.60,162.93 L538.00,163.08 L538.40,163.27 L538.80,163.50 L539.20,163.78 L539.60,164.11 L540.00,164.48 L540.40,164.89 L540.80,165.33 L541.20,165.80 L541.60,166.30 L542.00,166.82 L542.40,167.37 L542.80,167.97 L543.20,168.61 L543.60,169.30 L544.00,170.06 L544.40,170.90 L544.80,171.82 L545.20,172.81 L545.60,173.87 L546.00,174.99 L546.40,176.17 L546.80,177.40 L547.20,178.67 L547.60,179.98 L548.00,181.32 L548.40,182.69 L548.80,184.09 L549.20,185.52 L549.60,186.96 L550.00,188.42 L550.40,189.89 L550.80,191.36 L551.20,192.82 L551.60,194.28 L552.00,195.72 L552.40,197.16 L552.80,198.65 L553.20,200.23 L553.60,201.95 L554.00,203.83 L554.40,205.86 L554.80,207.98 L555.20,210.12 L555.60,212.22 L556.00,214.24 L556.40,216.10 L556.80,217.76 L557.20,219.23 L557.60,220.53 L558.00,221.68 L558.40,222.69 L558.80,223.59 L559.20,224.40 L559.60,225.13 L560.00,225.78 L560.40,226.35 L560.80,226.82 L561.20,227.19 L561.60,227.45 L562.00,227.60 L562.40,227.63 L562.80,227.53 L563.20,227.33 L563.60,227.01 L564.00,226.58 L564.40,226.04 L564.80,225.40 L565.20,224.66 L565.60,223.84 L566.00,222.94 L566.40,221.99 L566.80,220.99 L567.20,219.95 L567.60,218.90 L568.00,217.84 L568.40,216.75 L568.80,215.61 L569.20,214.41 L569.60,213.12 L570.00,211.73 L570.40,210.21 L570.80,208.56 L571.20,206.79 L571.60,204.93 L572.00,203.00 L572.40,201.02 L572.80,199.04 L573.20,197.08 L573.60,195.20 L574.00,193.43 L574.40,191.82 L574.80,190.40 L575.20,189.21 L575.60,188.23 L576.00,187.45 L576.40,186.86 L576.80,186.44 L577.20,186.16 L577.60,186.02 L578.00,185.99 L578.40,186.07 L578.80,186.23 L579.20,186.46 L579.60,186.79 L580.00,187.20 L580.40,187.71 L580.80,188.32 L581.20,189.03 L581.60,189.85 L582.00,190.79 L582.40,191.84 L582.80,193.01 L583.20,194.27 L583.60,195.63 L584.00,197.07 L584.40,198.57 L584.80,200.13 L585.20,201.73 L585.60,203.36 L586.00,205.01 L586.40,206.67 L586.80,208.34 L587.20,210.00 L587.60,211.65 L588.00,213.29 L588.40,214.90 L588.80,216.49 L589.20,218.05 L589.60,219.58 L590.00,221.07 L590.40,222.52 L590.80,223.93 L591.20,225.30 L591.60,226.63 L592.00,227.90 L592.40,229.12 L592.80,230.27 L593.20,231.36 L593.60,232.36 L594.00,233.28 L594.40,234.10 L594.80,234.82 L595.20,235.42 L595.60,235.90 L596.00,236.25 L596.40,236.45 L596.80,236.51 L597.20,236.41 L597.60,236.17 L598.00,235.79 L598.40,235.30 L598.80,234.70 L599.20,234.01 L599.60,233.22 L600.00,232.36 L600.40,231.43 L600.80,230.45 L601.20,229.40 L601.60,228.31 L602.00,227.17 L602.40,226.00 L602.80,224.79 L603.20,223.56 L603.60,222.29 L604.00,220.99 L604.40,219.65 L604.80,218.26 L605.20,216.83 L605.60,215.36 L606.00,213.83 L606.40,212.25 L606.80,210.63 L607.20,208.95 L607.60,207.23 L608.00,205.45 L608.40,203.63 L608.80,201.78 L609.20,199.94 L609.60,198.15 L610.00,196.45 L610.40,194.86 L610.80,193.43 L611.20,192.19 L611.60,191.13 L612.00,190.25 L612.40,189.54 L612.80,188.98 L613.20,188.55 L613.60,188.25 L614.00,188.07 L614.40,187.98 L614.80,187.97 L615.20,188.04 L615.60,188.18 L616.00,188.39 L616.40,188.68 L616.80,189.06 L617.20,189.51 L617.60,190.06 L618.00,190.70 L618.40,191.44 L618.80,192.29 L619.20,193.24 L619.60,194.31 L620.00,195.49 L620.40,196.77 L620.80,198.15 L621.20,199.63 L621.60,201.20 L622.00,202.86 L622.40,204.60 L622.80,206.42 L623.20,208.30 L623.60,210.22 L624.00,212.18 L624.40,214.14 L624.80,216.10 L625.20,218.04 L625.60,219.96 L626.00,221.85 L626.40,223.71 L626.80,225.54 L627.20,227.34 L627.60,229.10 L628.00,230.83 L628.40,232.51 L628.80,234.16 L629.20,235.75 L629.60,237.29 L630.00,238.77 L630.40,240.20 L630.80,241.56 L631.20,242.86 L631.60,244.10 L632.00,245.28 L632.40,246.41 L632.80,247.48 L633.20,248.50 L633.60,249.47 L634.00,250.39 L634.40,251.26 L634.80,252.08 L635.20,252.85 L635.60,253.58 L636.00,254.27 L636.40,254.91 L636.80,255.51 L637.20,256.06 L637.60,256.58 L638.00,257.06 L638.40,257.49 L638.80,257.90 L639.20,258.26 L639.60,258.60 L640.00,258.90 L640.40,259.18 L640.80,259.42 L641.20,259.65 L641.60,259.85 L642.00,260.03 L642.40,260.19 L642.80,260.34 L643.20,260.46 L643.60,260.58 L644.00,260.67 L644.40,260.76 L644.80,260.84 L645.20,260.90 L645.60,260.96 L646.00,261.00 L646.40,261.04 L646.80,261.08 L647.20,261.11 L647.60,261.13 L648.00,261.15 L648.40,261.17 L648.80,261.19 L648.80,261.10 L404.00,261.10 Z" fill="#008000" fill-opacity="0.25" stroke="none"/>
<path d="M404.00,261.20 L404.40,261.17 L404.80,261.15 L405.20,261.12 L405.60,261.09 L406.00,261.06 L406.40,261.02 L406.80,260.98 L407.20,260.93 L407.60,260.87 L408.00,260.81 L408.40,260.74 L408.80,260.66 L409.20,260.57 L409.60,260.47 L410.00,260.36 L410.40,260.24 L410.80,260.11 L411.20,259.96 L411.60,259.80 L412.00,259.63 L412.40,259.44 L412.80,259.22 L413.20,258.99 L413.60,258.73 L414.00,258.45 L414.40,258.14 L414.80,257.80 L415.20,257.43 L415.60,257.03 L416.00,256.59 L416.40,256.12 L416.80,255.62 L417.20,255.09 L417.60,254.52 L418.00,253.91 L418.40,253.27 L418.80,252.59 L419.20,251.87 L419.60,251.10 L420.00,250.29 L420.40,249.43 L420.80,248.51 L421.20,247.53 L421.60,246.49 L422.00,245.38 L422.40,244.20 L422.80,242.94 L423.20,241.61 L423.60,240.20 L424.00,238.70 L424.40,237.13 L424.80,235.46 L425.20,233.71 L425.60,231.88 L426.00,229.97 L426.40,228.00 L426.80,225.97 L427.20,223.89 L427.60,221.77 L428.00,219.62 L428.40,217.45 L428.80,215.25 L429.20,213.03 L429.60,210.77 L430.00,208.49 L430.40,206.17 L430.80,203.82 L431.20,201.43 L431.60,198.99 L432.00,196.49 L432.40,193.91 L432.80,191.24 L433.20,188.48 L433.60,185.61 L434.00,182.62 L434.40,179.49 L434.80,176.22 L435.20,172.80 L435.60,169.21 L436.00,165.47 L436.40,161.60 L436.80,157.60 L437.20,153.49 L437.60,149.28 L438.00,145.00 L438.40,140.68 L438.80,136.46 L439.20,132.50 L439.60,128.97 L440.00,126.03 L440.40,123.73 L440.80,121.88 L441.20,120.28 L441.60,118.71 L442.00,116.99 L442.40,115.09 L442.80,113.10 L443.20,111.08 L443.60,109.10 L444.00,107.23 L444.40,105.48 L444.80,103.86 L445.20,102.36 L445.60,100.98 L446.00,99.74 L446.40,98.64 L446.80,97.66 L447.20,96.81 L447.60,96.09 L448.00,95.47 L448.40,94.96 L448.80,94.55 L449.20,94.24 L449.60,94.03 L450.00,93.91 L450.40,93.90 L450.80,93.98 L451.20,94.15 L451.60,94.41 L452.00,94.74 L452.40,95.14 L452.80,95.60 L453.20,96.12 L453.60,96.71 L454.00,97.40 L454.40,98.21 L454.80,99.15 L455.20,100.24 L455.60,101.48 L456.00,102.86 L456.40,104.36 L456.80,105.99 L457.20,107.73 L457.60,109.57 L458.00,111.51 L458.40,113.54 L458.80,115.62 L459.20,117.76 L459.60,119.93 L460.00,122.14 L460.40,124.39 L460.80,126.70 L461.20,129.07 L461.60,131.48 L462.00,133.91 L462.40,136.34 L462.80,138.73 L463.20,141.08 L463.60,143.36 L464.00,145.53 L464.40,147.61 L464.80,149.59 L465.20,151.50 L465.60,153.38 L466.00,155.22 L466.40,157.04 L466.80,158.80 L467.20,160.49 L467.60,162.07 L468.00,163.52 L468.40,164.82 L468.80,165.93 L469.20,166.87 L469.60,167.65 L470.00,168.31 L470.40,168.87 L470.80,169.35 L471.20,169.79 L471.60,170.21 L472.00,170.62 L472.40,171.00 L472.80,171.36 L473.20,171.68 L473.60,171.95 L474.00,172.16 L474.40,172.30 L474.80,172.39 L475.20,172.42 L475.60,172.43 L476.00,172.42 L476.40,172.40 L476.80,172.40 L477.20,172.42 L477.60,172.47 L478.00,172.57 L478.40,172.72 L478.80,172.94 L479.20,173.23 L479.60,173.59 L480.00,174.05 L480.40,174.59 L480.80,175.20 L481.20,175.87 L481.60,176.58 L482.00,177.33 L482.40,178.10 L482.80,178.89 L483.20,179.68 L483.60,180.48 L484.00,181.30 L484.40,182.14 L484.80,182.99 L485.20,183.87 L485.60,184.77 L486.00,185.70 L486.40,186.66 L486.80,187.63 L487.20,188.60 L487.60,189.56 L488.00,190.49 L488.40,191.37 L488.80,192.20 L489.20,192.95 L489.60,193.63 L490.00,194.21 L490.40,194.68 L490.80,195.05 L491.20,195.29 L491.60,195.40 L492.00,195.37 L492.40,195.22 L492.80,194.94 L493.20,194.56 L493.60,194.09 L494.00,193.53 L494.40,192.90 L494.80,192.22 L495.20,191.49 L495.60,190.72 L496.00,189.93 L496.40,189.12 L496.80,188.30 L497.20,187.48 L497.60,186.65 L498.00,185.84 L498.40,185.04 L498.80,184.27 L499.20,183.53 L499.60,182.83 L500.00,182.17 L500.40,181.56 L500.80,180.99 L501.20,180.47 L501.60,180.01 L502.00,179.61 L502.40,179.27 L502.80,179.00 L503.20,178.81 L503.60,178.70 L504.00,178.68 L504.40,178.75 L504.80,178.92 L505.20,179.18 L505.60,179.53 L506.00,179.97 L506.40,180.49 L506.80,181.10 L507.20,181.78 L507.60,182.53 L508.00,183.32 L508.40,184.14 L508.80,184.98 L509.20,185.81 L509.60,186.63 L510.00,187.41 L510.40,188.15 L510.80,188.83 L511.20,189.46 L511.60,190.05 L512.00,190.60 L512.40,191.11 L512.80,191.59 L513.20,192.03 L513.60,192.43 L514.00,192.79 L514.40,193.08 L514.80,193.31 L515.20,193.45 L515.60,193.50 L516.00,193.45 L516.40,193.30 L516.80,193.06 L517.20,192.73 L517.60,192.33 L518.00,191.85 L518.40,191.30 L518.80,190.69 L519.20,190.03 L519.60,189.30 L520.00,188.50 L520.40,187.64 L520.80,186.71 L521.20,185.70 L521.60,184.62 L522.00,183.48 L522.40,182.30 L522.80,181.08 L523.20,179.85 L523.60,178.62 L524.00,177.40 L524.40,176.21 L524.80,175.06 L525.20,173.94 L525.60,172.87 L526.00,171.86 L526.40,170.90 L526.80,170.00 L527.20,169.17 L527.60,168.40 L528.00,167.70 L528.40,167.05 L528.80,166.45 L529.20,165.90 L529.60,165.40 L530.00,164.94 L530.40,164.52 L530.80,164.14 L531.20,163.80 L531.60,163.51 L532.00,163.26 L532.40,163.05 L532.80,162.89 L533.20,162.76 L533.60,162.67 L534.00,162.61 L534.40,162.58 L534.80,162.57 L535.20,162.57 L535.60,162.59 L536.00,162.62 L536.40,162.67 L536.80,162.73 L537.20,162.82 L537.60,162.93 L538.00,163.08 L538.40,163.27 L538.80,163.50 L539.20,163.78 L539.60,164.11 L540.00,164.48 L540.40,164.89 L540.80,165.33 L541.20,165.80 L541.60,166.30 L542.00,166.82 L542.40,167.37 L542.80,167.97 L543.20,168.61 L543.60,169.30 L544.00,170.06 L544.40,170.90 L544.80,171.82 L545.20,172.81 L545.60,173.87 L546.00,174.99 L546.40,176.17 L546.80,177.40 L547.20,178.67 L547.60,179.98 L548.00,181.32 L548.40,182.69 L548.80,184.09 L549.20,185.52 L549.60,186.96 L550.00,188.42 L550.40,189.89 L550.80,191.36 L551.20,192.82 L551.60,194.28 L552.00,195.72 L552.40,197.16 L552.80,198.65 L553.20,200.23 L553.60,201.95 L554.00,203.83 L554.40,205.86 L554.80,207.98 L555.20,210.12 L555.60,212.22 L556.00,214.24 L556.40,216.10 L556.80,217.76 L557.20,219.23 L557.60,220.53 L558.00,221.68 L558.40,222.69 L558.80,223.59 L559.20,224.40 L559.60,225.13 L560.00,225.78 L560.40,226.35 L560.80,226.82 L561.20,227.19 L561.60,227.45 L562.00,227.60 L562.40,227.63 L562.80,227.53 L563.20,227.33 L563.60,227.01 L564.00,226.58 L564.40,226.04 L564.80,225.40 L565.20,224.66 L565.60,223.84 L566.00,222.94 L566.40,221.99 L566.80,220.99 L567.20,219.95 L567.60,218.90 L568.00,217.84 L568.40,216.75 L568.80,215.61 L569.20,214.41 L569.60,213.12 L570.00,211.73 L570.40,210.21 L570.80,208.56 L571.20,206.79 L571.60,204.93 L572.00,203.00 L572.40,201.02 L572.80,199.04 L573.20,197.08 L573.60,195.20 L574.00,193.43 L574.40,191.82 L574.80,190.40 L575.20,189.21 L575.60,188.23 L576.00,187.45 L576.40,186.86 L576.80,186.44 L577.20,186.16 L577.60,186.02 L578.00,185.99 L578.40,186.07 L578.80,186.23 L579.20,186.46 L579.60,186.79 L580.00,187.20 L580.40,187.71 L580.80,188.32 L581.20,189.03 L581.60,189.85 L582.00,190.79 L582.40,191.84 L582.80,193.01 L583.20,194.27 L583.60,195.63 L584.00,197.07 L584.40,198.57 L584.80,200.13 L585.20,201.73 L585.60,203.36 L586.00,205.01 L586.40,206.67 L586.80,208.34 L587.20,210.00 L587.60,211.65 L588.00,213.29 L588.40,214.90 L588.80,216.49 L589.20,218.05 L589.60,219.58 L590.00,221.07 L590.40,222.52 L590.80,223.93 L591.20,225.30 L591.60,226.63 L592.00,227.90 L592.40,229.12 L592.80,230.27 L593.20,231.36 L593.60,232.36 L594.00,233.28 L594.40,234.10 L594.80,234.82 L595.20,235.42 L595.60,235.90 L596.00,236.25 L596.40,236.45 L596.80,236.51 L597.20,236.41 L597.60,236.17 L598.00,235.79 L598.40,235.30 L598.80,234.70 L599.20,234.01 L599.60,233.22 L600.00,232.36 L600.40,231.43 L600.80,230.45 L601.20,229.40 L601.60,228.31 L602.00,227.17 L602.40,226.00 L602.80,224.79 L603.20,223.56 L603.60,222.29 L604.00,220.99 L604.40,219.65 L604.80,218.26 L605.20,216.83 L605.60,215.36 L606.00,213.83 L606.40,212.25 L606.80,210.63 L607.20,208.95 L607.60,207.23 L608.00,205.45 L608.40,203.63 L608.80,201.78 L609.20,199.94 L609.60,198.15 L610.00,196.45 L610.40,194.86 L610.80,193.43 L611.20,192.19 L611.60,191.13 L612.00,190.25 L612.40,189.54 L612.80,188.98 L613.20,188.55 L613.60,188.25 L614.00,188.07 L614.40,187.98 L614.80,187.97 L615.20,188.04 L615.60,188.18 L616.00,188.39 L616.40,188.68 L616.80,189.06 L617.20,189.51 L617.60,190.06 L618.00,190.70 L618.40,191.44 L618.80,192.29 L619.20,193.24 L619.60,194.31 L620.00,195.49 L620.40,196.77 L620.80,198.15 L621.20,199.63 L621.60,201.20 L622.00,202.86 L622.40,204.60 L622.80,206.42 L623.20,208.30 L623.60,210.22 L624.00,212.18 L624.40,214.14 L624.80,216.10 L625.20,218.04 L625.60,219.96 L626.00,221.85 L626.40,223.71 L626.80,225.54 L627.20,227.34 L627.60,229.10 L628.00,230.83 L628.40,232.51 L628.80,234.16 L629.20,235.75 L629.60,237.29 L630.00,238.77 L630.40,240.20 L630.80,241.56 L631.20,242.86 L631.60,244.10 L632.00,245.28 L632.40,246.41 L632.80,247.48 L633.20,248.50 L633.60,249.47 L634.00,250.39 L634.40,251.26 L634.80,252.08 L635.20,252.85 L635.60,253.58 L636.00,254.27 L636.40,254.91 L636.80,255.51 L637.20,256.06 L637.60,256.58 L638.00,257.06 L638.40,257.49 L638.80,257.90 L639.20,258.26 L639.60,258.60 L640.00,258.90 L640.40,259.18 L640.80,259.42 L641.20,259.65 L641.60,259.85 L642.00,260.03 L642.40,260.19 L642.80,260.34 L643.20,260.46 L643.60,260.58 L644.00,260.67 L644.40,260.76 L644.80,260.84 L645.20,260.90 L645.60,260.96 L646.00,261.00 L646.40,261.04 L646.80,261.08 L647.20,261.11 L647.60,261.13 L648.00,261.15 L648.40,261.17 L648.80,261.19" fill="none" stroke="#2a912d" stroke-width="1.02" stroke-linejoin="round"/>
<path d="M427.80,249.54 L428.19,248.23 L428.58,246.80 L428.62,246.61 L428.97,245.25 L429.36,243.55 L429.45,243.11 L429.75,241.72 L430.14,239.74 L430.28,238.95 L430.53,237.59 L430.92,235.29 L431.11,234.06 L431.31,232.81 L431.41,232.09 L431.70,230.15 L431.94,228.39 L432.09,227.31 L432.48,224.28 L432.77,221.87 L432.87,221.06 L433.15,218.56 L433.26,217.64 L433.60,214.46 L433.65,214.01 L434.04,210.19 L434.43,206.16 L434.43,206.14 L434.82,201.92 L434.89,201.09 L435.21,197.49 L435.26,196.89 L435.60,192.85 L435.99,188.01 L436.09,186.74 L436.38,182.99 L436.63,179.63 L436.77,177.77 L436.91,175.74 L437.16,172.39 L437.55,166.84 L437.74,163.96 L437.94,161.13 L438.33,155.28 L438.37,154.66 L438.57,151.52 L438.72,149.31 L439.11,143.23 L439.40,138.55 L439.50,137.05 L439.89,130.81 L440.11,127.28 L440.23,125.25 L440.28,124.52 L440.67,118.19 L441.06,111.87 L441.06,111.81 L441.45,105.56 L441.84,99.30 L441.84,99.18 L441.89,98.46 L442.23,93.11 L442.62,87.02 L442.72,85.46 L443.01,81.06 L443.40,75.25 L443.55,73.06 L443.58,72.55 L443.79,69.63 L444.18,64.21 L444.38,61.53 L444.57,59.03 L444.96,54.11 L445.21,51.12 L445.32,49.78 L445.35,49.47 L445.74,45.15 L446.03,42.07 L446.13,41.16 L446.52,37.52 L446.86,34.61 L446.91,34.26 L447.06,33.10 L447.30,31.39 L447.69,28.93 L447.69,28.90 L448.08,26.89 L448.47,25.27 L448.52,25.08 L448.80,24.25 L448.86,24.10 L449.25,23.36 L449.35,23.25 L449.64,23.08 L450.03,23.24 L450.18,23.43 L450.42,23.85 L450.54,24.12 L450.81,24.90 L451.01,25.61 L451.20,26.38 L451.59,28.28 L451.84,29.72 L451.98,30.59 L452.27,32.62 L452.37,33.30 L452.67,35.64 L452.76,36.39 L453.15,39.83 L453.50,43.19 L453.54,43.61 L453.93,47.70 L454.01,48.63 L454.32,52.09 L454.32,52.17 L454.71,56.74 L455.10,61.63 L455.15,62.35 L455.49,66.73 L455.75,70.26 L455.88,72.01 L455.98,73.47 L456.27,77.45 L456.66,83.01 L456.81,85.24 L457.05,88.68 L457.44,94.41 L457.49,95.16 L457.64,97.42 L457.83,100.19 L458.22,105.98 L458.47,109.72 L458.61,111.76 L459.00,117.51 L459.23,120.85 L459.30,121.91 L459.39,123.20 L459.78,128.80 L460.13,133.75 L460.17,134.30 L460.56,139.68 L460.95,144.92 L460.96,145.04 L460.97,145.14 L461.34,150.00 L461.73,154.91 L461.79,155.63 L462.12,159.63 L462.51,164.16 L462.62,165.36 L462.70,166.34 L462.90,168.47 L463.29,172.58 L463.44,174.15 L463.68,176.45 L464.07,180.11 L464.27,181.93 L464.44,183.38 L464.46,183.53 L464.85,186.71 L465.10,188.66 L465.24,189.66 L465.63,192.38 L465.93,194.33 L466.02,194.87 L466.18,195.83 L466.41,197.12 L466.76,198.96 L466.80,199.15 L467.19,200.96 L467.58,202.55 L467.59,202.59 L467.92,203.76 L467.97,203.93 L468.36,205.10 L468.42,205.27 L468.75,206.08 L469.14,206.87 L469.25,207.06 L469.53,207.48 L469.66,207.64 L469.92,207.91 L470.08,208.04 L470.31,208.18 L470.70,208.29 L470.91,208.28 L471.09,208.25 L471.39,208.12 L471.48,208.07 L471.74,207.88 L471.87,207.76 L472.26,207.33 L472.56,206.91 L472.65,206.78 L473.04,206.13 L473.13,205.95 L473.39,205.45 L473.43,205.37 L473.82,204.53 L474.21,203.61 L474.22,203.57 L474.60,202.61 L474.87,201.87 L474.99,201.54 L475.05,201.36 L475.38,200.41 L475.77,199.22 L475.88,198.88 L476.16,197.99 L476.55,196.71 L476.61,196.51 L476.71,196.18 L476.94,195.40 L477.33,194.06 L477.54,193.34 L477.72,192.70 L478.11,191.32 L478.35,190.46 L478.37,190.40 L478.50,189.92 L478.89,188.51 L479.20,187.40 L479.28,187.10 L479.67,185.69 L480.03,184.41 L480.06,184.29 L480.09,184.19 L480.45,182.89 L480.84,181.51 L480.85,181.46 L481.23,180.14 L481.62,178.79 L481.68,178.58 L481.82,178.10 L482.01,177.47 L482.40,176.18 L482.51,175.81 L482.79,174.91 L483.18,173.68 L483.34,173.18 L483.56,172.51 L483.57,172.49 L483.96,171.33 L484.17,170.73 L484.35,170.22 L484.74,169.16 L485.00,168.47 L485.13,168.14 L485.30,167.71 L485.52,167.17 L485.91,166.25 L486.30,165.39 L486.69,164.58 L487.04,163.90 L487.08,163.83 L487.47,163.14 L487.86,162.51 L488.25,161.94 L488.64,161.43 L488.78,161.27 L489.03,161.00 L489.42,160.62 L489.81,160.31 L490.20,160.07 L490.52,159.93 L490.59,159.90 L490.98,159.80 L491.37,159.76 L491.76,159.79 L492.15,159.89 L492.25,159.93 L492.54,160.06 L492.93,160.30 L493.32,160.60 L493.71,160.97 L493.99,161.28 L494.10,161.40 L494.49,161.91 L494.88,162.47 L495.27,163.10 L495.66,163.79 L495.73,163.91 L496.05,164.53 L496.44,165.34 L496.83,166.20 L497.22,167.12 L497.47,167.73 L497.61,168.09 L497.91,168.88 L498.00,169.12 L498.39,170.19 L498.78,171.31 L499.03,172.05 L499.17,172.47 L499.21,172.58 L499.56,173.67 L499.95,174.92 L500.15,175.57 L500.34,176.20 L500.73,177.51 L500.95,178.25 L501.12,178.86 L501.27,179.39 L501.51,180.23 L501.90,181.63 L502.29,183.06 L502.39,183.43 L502.68,184.50 L502.68,184.51 L503.07,185.96 L503.46,187.43 L503.51,187.63 L503.85,188.92 L504.24,190.41 L504.42,191.10 L504.63,191.90 L504.63,191.90 L505.02,193.40 L505.41,194.89 L505.75,196.18 L505.80,196.37 L506.16,197.73 L506.19,197.85 L506.58,199.31 L506.87,200.38 L506.97,200.75 L507.36,202.18 L507.75,203.57 L507.90,204.09 L507.99,204.42 L508.14,204.94 L508.53,206.28 L508.92,207.58 L509.11,208.19 L509.31,208.83 L509.64,209.85 L509.70,210.05 L510.09,211.21 L510.23,211.61 L510.48,212.32 L510.87,213.37 L511.26,214.36 L511.35,214.58 L511.38,214.64 L511.65,215.29 L512.04,216.15 L512.43,216.93 L512.47,217.00 L512.82,217.63 L513.11,218.10 L513.21,218.25 L513.59,218.76 L513.60,218.78 L513.99,219.21 L514.38,219.56 L514.71,219.77 L514.77,219.80 L514.85,219.84 L515.16,219.94 L515.55,219.97 L515.83,219.92 L515.94,219.89 L516.33,219.69 L516.59,219.49 L516.72,219.37 L516.95,219.13 L517.11,218.93 L517.50,218.37 L517.89,217.68 L518.07,217.32 L518.28,216.86 L518.33,216.76 L518.67,215.91 L519.06,214.83 L519.19,214.45 L519.45,213.62 L519.84,212.27 L520.07,211.43 L520.23,210.78 L520.31,210.47 L520.62,209.17 L521.01,207.42 L521.40,205.54 L521.43,205.40 L521.79,203.54 L521.81,203.47 L522.18,201.41 L522.55,199.29 L522.57,199.16 L522.96,196.79 L523.35,194.31 L523.54,193.07 L523.67,192.22 L523.74,191.73 L524.13,189.05 L524.52,186.29 L524.79,184.34 L524.91,183.43 L525.28,180.67 L525.30,180.51 L525.69,177.52 L525.91,175.83 L526.08,174.48 L526.47,171.39 L526.86,168.27 L527.02,167.02 L527.03,166.93 L527.25,165.13 L527.64,161.99 L528.03,158.85 L528.15,157.91 L528.42,155.73 L528.76,153.07 L528.81,152.63 L529.20,149.59 L529.27,149.07 L529.59,146.60 L529.98,143.68 L530.37,140.85 L530.39,140.73 L530.50,139.99 L530.76,138.12 L531.15,135.51 L531.51,133.22 L531.54,133.01 L531.93,130.66 L532.24,128.94 L532.32,128.45 L532.63,126.83 L532.71,126.40 L533.10,124.53 L533.49,122.84 L533.75,121.83 L533.89,121.34 L533.97,121.02 L534.28,120.04 L534.67,118.94 L534.87,118.45 L535.06,118.06 L535.45,117.39 L535.71,117.06 L535.84,116.95 L535.99,116.83 L536.23,116.73 L536.62,116.74 L537.01,116.97 L537.11,117.08 L537.40,117.44 L537.45,117.52 L537.79,118.12 L538.18,119.04 L538.23,119.19 L538.57,120.17 L538.96,121.51 L539.19,122.42 L539.35,123.07 L539.35,123.09 L539.74,124.82 L540.13,126.77 L540.47,128.65 L540.52,128.90 L540.91,131.21 L540.93,131.34 L541.30,133.69 L541.59,135.67 L541.69,136.31 L542.08,139.09 L542.47,141.99 L542.67,143.52 L542.71,143.88 L542.86,145.01 L543.25,148.14 L543.64,151.36 L543.83,153.01 L544.03,154.66 L544.40,157.92 L544.42,158.03 L544.81,161.46 L544.95,162.75 L545.20,164.92 L545.59,168.42 L545.98,171.94 L546.07,172.80 L546.14,173.43 L546.37,175.46 L546.76,178.97 L547.15,182.47 L547.19,182.88 L547.54,185.94 L547.88,188.98 L547.93,189.38 L548.31,192.73 L548.32,192.77 L548.71,196.10 L549.10,199.38 L549.43,202.13 L549.49,202.58 L549.62,203.65 L549.88,205.71 L550.27,208.75 L550.55,210.92 L550.66,211.71 L551.05,214.58 L551.36,216.79 L551.44,217.35 L551.67,218.97 L551.83,220.03 L552.22,222.60 L552.61,225.07 L552.79,226.20 L553.00,227.44 L553.39,229.70 L553.78,231.86 L553.91,232.58 L554.17,233.91 L554.56,235.86 L554.95,237.71 L555.03,238.10 L555.34,239.46 L555.73,241.11 L556.12,242.67 L556.15,242.80 L556.51,244.13 L556.90,245.50 L557.27,246.73 L557.29,246.78 L557.68,247.98 L558.07,249.10 L558.39,249.97 L558.46,250.14 L558.85,251.11 L559.24,252.01 L559.51,252.59 L559.63,252.83 L560.02,253.60 L560.41,254.30 L560.63,254.68 L560.80,254.95 L561.19,255.55 L561.58,256.09 L561.75,256.31 L561.97,256.58 L562.36,257.03 L562.75,257.43 L562.87,257.54 L563.00,257.66 L563.14,257.78 L563.43,258.01 L563.53,258.09 L563.86,258.31 L563.92,258.34 L563.99,258.39 L564.30,258.54 L564.31,258.55 L564.70,258.69 L564.73,258.70 L565.09,258.76 L565.11,258.77 L565.16,258.77 L565.48,258.75 L565.60,258.73 L565.87,258.64 L566.03,258.56 L566.23,258.43 L566.26,258.41 L566.46,258.22 L566.65,258.01 L566.90,257.67 L567.04,257.43 L567.33,256.85 L567.35,256.80 L567.43,256.61 L567.76,255.69 L567.82,255.51 L568.19,254.12 L568.21,254.06 L568.47,252.86 L568.60,252.20 L568.63,252.04 L568.99,249.85 L569.06,249.35 L569.38,246.93 L569.49,245.95 L569.59,245.08 L569.77,243.38 L569.93,241.73 L570.16,239.10 L570.36,236.58 L570.55,234.02 L570.71,231.66 L570.79,230.40 L570.94,228.09 L571.23,223.14 L571.33,221.26 L571.66,214.75 L571.72,213.51 L571.83,211.11 L572.09,205.22 L572.11,204.84 L572.50,195.30 L572.53,194.61 L572.89,184.95 L572.95,183.23 L572.96,183.01 L573.28,173.91 L573.39,170.61 L573.67,162.35 L573.82,157.62 L574.06,150.45 L574.07,150.09 L574.26,144.33 L574.45,138.47 L574.69,131.09 L574.84,126.65 L575.12,118.28 L575.19,116.37 L575.23,115.29 L575.56,106.30 L575.62,104.68 L575.99,95.54 L576.01,95.11 L576.40,86.87 L576.42,86.41 L576.79,80.20 L576.86,79.22 L577.18,75.31 L577.29,74.27 L577.57,72.35 L577.72,71.75 L577.96,71.43 L578.16,71.75 L578.35,72.57 L578.59,74.28 L578.74,75.74 L579.02,79.24 L579.13,80.82 L579.45,86.43 L579.52,87.67 L579.89,95.57 L579.91,96.07 L580.30,105.76 L580.32,106.33 L580.69,116.47 L580.75,118.33 L581.08,127.90 L581.19,131.15 L581.47,139.76 L581.62,144.40 L581.86,151.76 L582.05,157.70 L582.25,163.64 L582.49,170.70 L582.64,175.18 L582.92,183.13 L583.03,186.17 L583.35,194.74 L583.42,196.46 L583.79,205.38 L583.81,205.94 L584.20,214.54 L584.22,214.94 L584.59,222.23 L584.65,223.37 L584.98,229.00 L585.08,230.67 L585.37,234.88 L585.52,236.89 L585.76,239.91 L585.95,242.09 L586.15,244.17 L586.38,246.38 L586.54,247.71 L586.82,249.85 L586.93,250.63 L587.25,252.61 L587.32,253.00 L587.68,254.79 L587.71,254.90 L588.10,256.41 L588.12,256.47 L588.49,257.59 L588.55,257.74 L588.88,258.50 L588.98,258.70 L589.27,259.20 L589.42,259.41 L589.66,259.72 L589.85,259.92 L590.05,260.11 L590.28,260.29 L590.44,260.40 L590.71,260.55 L590.83,260.61 L591.15,260.73 L591.22,260.76 L591.58,260.86 L591.61,260.87 L592.00,260.94 L592.01,260.94 L592.39,260.99 L592.45,261.00 L592.78,261.03 L592.88,261.04 L593.17,261.05 L593.56,261.07 L593.95,261.08 L594.34,261.09 L594.73,261.09 L595.12,261.09 L595.51,261.09 L595.90,261.09 L596.29,261.09 L596.68,261.09 L597.07,261.09 L597.46,261.08 L597.85,261.07 L598.24,261.05 L598.46,261.04 L598.63,261.03 L598.81,261.02 L599.02,261.00 L599.15,260.99 L599.41,260.96 L599.50,260.94 L599.80,260.89 L599.85,260.88 L600.19,260.80 L600.19,260.80 L600.54,260.70 L600.58,260.68 L600.89,260.55 L600.97,260.52 L601.24,260.37 L601.36,260.29 L601.58,260.13 L601.75,259.99 L601.93,259.82 L602.14,259.59 L602.28,259.42 L602.53,259.07 L602.63,258.92 L602.92,258.40 L602.97,258.29 L603.31,257.53 L603.32,257.51 L603.67,256.54 L603.70,256.44 L604.02,255.36 L604.09,255.07 L604.36,253.92 L604.48,253.36 L604.71,252.19 L604.87,251.28 L605.06,250.13 L605.26,248.74 L605.40,247.69 L605.65,245.71 L605.75,244.84 L606.04,242.11 L606.10,241.53 L606.43,237.89 L606.45,237.72 L606.79,233.39 L606.82,233.01 L607.14,228.50 L607.21,227.43 L607.49,223.04 L607.60,221.13 L607.84,217.00 L607.99,214.10 L608.18,210.39 L608.38,206.36 L608.53,203.24 L608.77,197.96 L608.88,195.57 L609.16,188.96 L609.23,187.46 L609.55,179.47 L609.57,178.97 L609.92,170.19 L609.94,169.62 L610.27,161.25 L610.33,159.56 L610.61,152.25 L610.72,149.47 L610.96,143.34 L611.11,139.55 L611.31,134.68 L611.50,130.01 L611.66,126.40 L611.89,121.08 L612.00,118.68 L612.28,112.98 L612.35,111.65 L612.67,105.90 L612.70,105.47 L613.05,100.26 L613.06,100.04 L613.39,96.14 L613.45,95.55 L613.74,93.20 L613.84,92.57 L614.09,91.51 L614.23,91.18 L614.43,91.10 L614.62,91.41 L614.78,91.98 L615.01,93.27 L615.13,94.13 L615.40,96.69 L615.48,97.51 L615.79,101.58 L615.82,102.04 L616.17,107.62 L616.18,107.81 L616.52,114.12 L616.57,115.21 L616.87,121.42 L616.96,123.57 L617.21,129.36 L617.35,132.70 L617.56,137.80 L617.74,142.36 L617.91,146.57 L618.13,152.35 L618.26,155.53 L618.52,162.46 L618.60,164.52 L618.91,172.48 L618.95,173.42 L619.30,182.10 L619.30,182.24 L619.64,190.46 L619.69,191.60 L619.99,198.42 L620.08,200.43 L620.34,205.91 L620.47,208.65 L620.69,212.86 L620.86,216.19 L621.03,219.27 L621.25,223.01 L621.38,225.09 L621.64,229.11 L621.73,230.35 L622.03,234.48 L622.08,235.03 L622.42,239.17" fill="none" stroke="#f51616" stroke-width="1.02" stroke-linejoin="round"/>
<line x1="449.56" y1="12" x2="449.56" y2="261.2" stroke="#f51616" stroke-width="1.02" stroke-dasharray="3.85,1.65"/>
<line x1="491.39" y1="12" x2="491.39" y2="261.2" stroke="#f51616" stroke-width="1.02" stroke-dasharray="3.85,1.65"/>
<line x1="536.55" y1="12" x2="536.55" y2="261.2" stroke="#f51616" stroke-width="1.02" stroke-dasharray="3.85,1.65"/>
<line x1="577.94" y1="12" x2="577.94" y2="261.2" stroke="#f51616" stroke-width="1.02" stroke-dasharray="3.85,1.65"/>
<line x1="614.37" y1="12" x2="614.37" y2="261.2" stroke="#f51616" stroke-width="1.02" stroke-dasharray="3.85,1.65"/>
</g>
<rect x="392.4" y="125.4" width="76.2" height="22.2" rx="1.6" fill="#eaeaf2" fill-opacity="0.8" stroke="#cccccc" stroke-opacity="0.8" stroke-width="0.7"/>
<rect x="395.2" y="128.6" width="14.70" height="4.9" fill="#008000" fill-opacity="0.25" stroke="#2a912d" stroke-width="0.95"/>
<line x1="394.9" y1="140.5" x2="410.20" y2="140.5" stroke="#f51616" stroke-width="1.02"/>
<g opacity="0.999">
<text transform="translate(47.25,273.60) rotate(0.03)" font-size="6.85" text-anchor="middle" fill="#262626">6000</text>
<text transform="translate(106.10,273.60) rotate(0.03)" font-size="6.85" text-anchor="middle" fill="#262626">7000</text>
<text transform="translate(164.95,273.60) rotate(0.03)" font-size="6.85" text-anchor="middle" fill="#262626">8000</text>
<text transform="translate(223.80,273.60) rotate(0.03)" font-size="6.85" text-anchor="middle" fill="#262626">9000</text>
<text transform="translate(282.65,273.60) rotate(0.03)" font-size="6.85" text-anchor="middle" fill="#262626">10000</text>
<text transform="translate(32.90,264.35) rotate(0.03)" font-size="6.85" text-anchor="end" fill="#262626">0.0000</text>
<text transform="translate(32.90,216.77) rotate(0.03)" font-size="6.85" text-anchor="end" fill="#262626">0.0005</text>
<text transform="translate(32.90,169.18) rotate(0.03)" font-size="6.85" text-anchor="end" fill="#262626">0.0010</text>
<text transform="translate(32.90,121.60) rotate(0.03)" font-size="6.85" text-anchor="end" fill="#262626">0.0015</text>
<text transform="translate(32.90,74.01) rotate(0.03)" font-size="6.85" text-anchor="end" fill="#262626">0.0020</text>
<text transform="translate(32.90,26.43) rotate(0.03)" font-size="6.85" text-anchor="end" fill="#262626">0.0025</text>
<text transform="translate(97.40,54.90) rotate(0.03)" font-size="7.0" text-anchor="middle" fill="#000">μ=6852.18</text>
<text transform="translate(97.40,62.30) rotate(0.03)" font-size="7.0" text-anchor="middle" fill="#000">Σ=31921.44</text>
<text transform="translate(150.87,29.60) rotate(0.03)" font-size="7.0" text-anchor="middle" fill="#000">μ=7760.81</text>
<text transform="translate(150.87,37.00) rotate(0.03)" font-size="7.0" text-anchor="middle" fill="#000">Σ=1317.69</text>
<text transform="translate(203.37,42.60) rotate(0.03)" font-size="7.0" text-anchor="middle" fill="#000">μ=8652.87</text>
<text transform="translate(203.37,50.00) rotate(0.03)" font-size="7.0" text-anchor="middle" fill="#000">Σ=29805.76</text>
<text transform="translate(236.26,54.90) rotate(0.03)" font-size="7.0" text-anchor="middle" fill="#000">μ=9218.46</text>
<text transform="translate(236.26,62.30) rotate(0.03)" font-size="7.0" text-anchor="middle" fill="#000">Σ=8388.09</text>
<text transform="translate(268.06,67.90) rotate(0.03)" font-size="7.0" text-anchor="middle" fill="#000">μ=9759.65</text>
<text transform="translate(268.06,75.30) rotate(0.03)" font-size="7.0" text-anchor="middle" fill="#000">Σ=314.08</text>
<text transform="translate(66.90,133.70) rotate(0.03)" font-size="7.13" fill="#262626">Original Density</text>
<text transform="translate(66.90,143.90) rotate(0.03)" font-size="7.13" fill="#262626">GMM</text>
<text transform="translate(176.45,8.00) rotate(0.03)" font-size="10.02" text-anchor="middle" fill="#262626">Density Plot with GMM of Gas Generator rate of revolutions (GGn) [rpm]</text>
<text transform="translate(176.10,284.30) rotate(0.03)" font-size="8.54" text-anchor="middle" fill="#262626">Gas Generator rate of revolutions (GGn) [rpm]</text>
<text transform="translate(7.20,138.45) rotate(-90)" font-size="8.4" text-anchor="middle" fill="#262626">Density</text>
<text transform="translate(170.80,320.50) rotate(0.03)" font-size="15.4" text-anchor="middle" fill="#000" font-family='"Liberation Serif", serif'>(a)</text>
<text transform="translate(396.20,273.05) rotate(0.03)" font-size="6.85" text-anchor="middle" fill="#262626">500</text>
<text transform="translate(435.40,273.05) rotate(0.03)" font-size="6.85" text-anchor="middle" fill="#262626">550</text>
<text transform="translate(474.60,273.05) rotate(0.03)" font-size="6.85" text-anchor="middle" fill="#262626">600</text>
<text transform="translate(513.80,273.05) rotate(0.03)" font-size="6.85" text-anchor="middle" fill="#262626">650</text>
<text transform="translate(553.00,273.05) rotate(0.03)" font-size="6.85" text-anchor="middle" fill="#262626">700</text>
<text transform="translate(592.20,273.05) rotate(0.03)" font-size="6.85" text-anchor="middle" fill="#262626">750</text>
<text transform="translate(631.40,273.05) rotate(0.03)" font-size="6.85" text-anchor="middle" fill="#262626">800</text>
<text transform="translate(381.80,263.60) rotate(0.03)" font-size="6.85" text-anchor="end" fill="#262626">0.000</text>
<text transform="translate(381.80,222.66) rotate(0.03)" font-size="6.85" text-anchor="end" fill="#262626">0.002</text>
<text transform="translate(381.80,181.72) rotate(0.03)" font-size="6.85" text-anchor="end" fill="#262626">0.004</text>
<text transform="translate(381.80,140.78) rotate(0.03)" font-size="6.85" text-anchor="end" fill="#262626">0.006</text>
<text transform="translate(381.80,99.84) rotate(0.03)" font-size="6.85" text-anchor="end" fill="#262626">0.008</text>
<text transform="translate(381.80,58.90) rotate(0.03)" font-size="6.85" text-anchor="end" fill="#262626">0.010</text>
<text transform="translate(381.80,17.96) rotate(0.03)" font-size="6.85" text-anchor="end" fill="#262626">0.012</text>
<text transform="translate(449.56,54.90) rotate(0.03)" font-size="7.0" text-anchor="middle" fill="#000">μ=568.06</text>
<text transform="translate(449.56,62.30) rotate(0.03)" font-size="7.0" text-anchor="middle" fill="#000">Σ=127.72</text>
<text transform="translate(491.39,67.90) rotate(0.03)" font-size="7.0" text-anchor="middle" fill="#000">μ=621.41</text>
<text transform="translate(491.39,75.30) rotate(0.03)" font-size="7.0" text-anchor="middle" fill="#000">Σ=365.71</text>
<text transform="translate(536.55,54.90) rotate(0.03)" font-size="7.0" text-anchor="middle" fill="#000">μ=679.02</text>
<text transform="translate(536.55,62.30) rotate(0.03)" font-size="7.0" text-anchor="middle" fill="#000">Σ=151.81</text>
<text transform="translate(577.94,29.60) rotate(0.03)" font-size="7.0" text-anchor="middle" fill="#000">μ=731.81</text>
<text transform="translate(577.94,37.00) rotate(0.03)" font-size="7.0" text-anchor="middle" fill="#000">Σ=22.70</text>
<text transform="translate(614.37,42.60) rotate(0.03)" font-size="7.0" text-anchor="middle" fill="#000">μ=778.28</text>
<text transform="translate(614.37,50.00) rotate(0.03)" font-size="7.0" text-anchor="middle" fill="#000">Σ=25.75</text>
<text transform="translate(415.20,133.50) rotate(0.03)" font-size="7.13" fill="#262626">Original Density</text>
<text transform="translate(415.20,143.70) rotate(0.03)" font-size="7.13" fill="#262626">GMM</text>
<text transform="translate(526.25,8.00) rotate(0.03)" font-size="10.02" text-anchor="middle" fill="#262626">Density Plot with GMM of GT Compressor outlet air temperature (T2) [C]</text>
<text transform="translate(525.50,283.55) rotate(0.03)" font-size="8.54" text-anchor="middle" fill="#262626">GT Compressor outlet air temperature (T2) [C]</text>
<text transform="translate(360.30,138.20) rotate(-90)" font-size="8.4" text-anchor="middle" fill="#262626">Density</text>
<text transform="translate(520.90,320.10) rotate(0.03)" font-size="15.4" text-anchor="middle" fill="#000" font-family='"Liberation Serif", serif'>(b)</text>
</g>
</svg>
</body></html>
